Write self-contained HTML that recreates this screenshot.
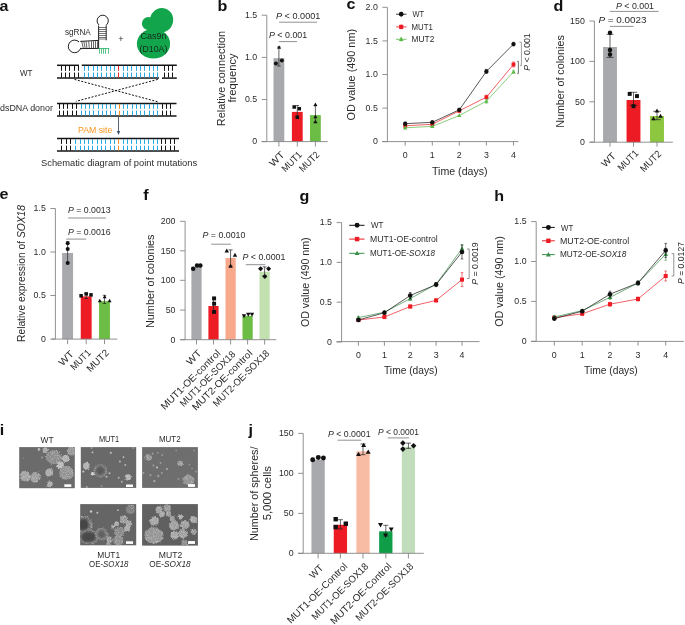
<!DOCTYPE html><html><head><meta charset="utf-8"><style>html,body{margin:0;padding:0;background:#fff;}svg{display:block;font-family:"Liberation Sans",sans-serif;will-change:transform;}</style></head><body>
<svg width="685" height="625" viewBox="0 0 685 625">
<rect width="685" height="625" fill="#fff"/>
<text transform="translate(-0.5,11) scale(1.15,1)" font-size="14" font-weight="bold" fill="#111">a</text>
<line x1="57" y1="65.3" x2="79" y2="65.3" stroke="#141414" stroke-width="1.5"/>
<line x1="81.8" y1="65.3" x2="176.8" y2="65.3" stroke="#141414" stroke-width="1.5"/>
<line x1="57" y1="78.1" x2="159" y2="78.1" stroke="#141414" stroke-width="1.5"/>
<line x1="162" y1="78.1" x2="176.8" y2="78.1" stroke="#141414" stroke-width="1.5"/>
<line x1="61.5" y1="65.8" x2="61.5" y2="70.85" stroke="#141414" stroke-width="1.0"/>
<line x1="61.5" y1="72.54999999999998" x2="61.5" y2="77.6" stroke="#141414" stroke-width="1.0"/>
<line x1="65.5" y1="65.8" x2="65.5" y2="70.85" stroke="#141414" stroke-width="1.0"/>
<line x1="65.5" y1="72.54999999999998" x2="65.5" y2="77.6" stroke="#141414" stroke-width="1.0"/>
<line x1="69.5" y1="65.8" x2="69.5" y2="70.85" stroke="#141414" stroke-width="1.0"/>
<line x1="69.5" y1="72.54999999999998" x2="69.5" y2="77.6" stroke="#141414" stroke-width="1.0"/>
<line x1="74.5" y1="65.8" x2="74.5" y2="70.85" stroke="#141414" stroke-width="1.0"/>
<line x1="74.5" y1="72.54999999999998" x2="74.5" y2="77.6" stroke="#141414" stroke-width="1.0"/>
<line x1="78.5" y1="65.8" x2="78.5" y2="70.85" stroke="#141414" stroke-width="1.0"/>
<line x1="78.5" y1="72.54999999999998" x2="78.5" y2="77.6" stroke="#141414" stroke-width="1.0"/>
<line x1="84.5" y1="65.8" x2="84.5" y2="70.85" stroke="#27aae1" stroke-width="1.0"/>
<line x1="84.5" y1="72.54999999999998" x2="84.5" y2="77.6" stroke="#27aae1" stroke-width="1.0"/>
<line x1="88.5" y1="65.8" x2="88.5" y2="70.85" stroke="#27aae1" stroke-width="1.0"/>
<line x1="88.5" y1="72.54999999999998" x2="88.5" y2="77.6" stroke="#27aae1" stroke-width="1.0"/>
<line x1="93.5" y1="65.8" x2="93.5" y2="70.85" stroke="#27aae1" stroke-width="1.0"/>
<line x1="93.5" y1="72.54999999999998" x2="93.5" y2="77.6" stroke="#27aae1" stroke-width="1.0"/>
<line x1="97.5" y1="65.8" x2="97.5" y2="70.85" stroke="#27aae1" stroke-width="1.0"/>
<line x1="97.5" y1="72.54999999999998" x2="97.5" y2="77.6" stroke="#27aae1" stroke-width="1.0"/>
<line x1="101.5" y1="65.8" x2="101.5" y2="70.85" stroke="#27aae1" stroke-width="1.0"/>
<line x1="101.5" y1="72.54999999999998" x2="101.5" y2="77.6" stroke="#27aae1" stroke-width="1.0"/>
<line x1="106.5" y1="65.8" x2="106.5" y2="70.85" stroke="#27aae1" stroke-width="1.0"/>
<line x1="106.5" y1="72.54999999999998" x2="106.5" y2="77.6" stroke="#27aae1" stroke-width="1.0"/>
<line x1="110.5" y1="65.8" x2="110.5" y2="70.85" stroke="#27aae1" stroke-width="1.0"/>
<line x1="110.5" y1="72.54999999999998" x2="110.5" y2="77.6" stroke="#27aae1" stroke-width="1.0"/>
<line x1="114.5" y1="65.8" x2="114.5" y2="70.85" stroke="#27aae1" stroke-width="1.0"/>
<line x1="114.5" y1="72.54999999999998" x2="114.5" y2="77.6" stroke="#27aae1" stroke-width="1.0"/>
<line x1="118.5" y1="65.8" x2="118.5" y2="70.85" stroke="#e8262a" stroke-width="1.0"/>
<line x1="118.5" y1="72.54999999999998" x2="118.5" y2="77.6" stroke="#e8262a" stroke-width="1.0"/>
<line x1="123.5" y1="65.8" x2="123.5" y2="70.85" stroke="#27aae1" stroke-width="1.0"/>
<line x1="123.5" y1="72.54999999999998" x2="123.5" y2="77.6" stroke="#27aae1" stroke-width="1.0"/>
<line x1="127.5" y1="65.8" x2="127.5" y2="70.85" stroke="#27aae1" stroke-width="1.0"/>
<line x1="127.5" y1="72.54999999999998" x2="127.5" y2="77.6" stroke="#27aae1" stroke-width="1.0"/>
<line x1="131.5" y1="65.8" x2="131.5" y2="70.85" stroke="#27aae1" stroke-width="1.0"/>
<line x1="131.5" y1="72.54999999999998" x2="131.5" y2="77.6" stroke="#27aae1" stroke-width="1.0"/>
<line x1="136.5" y1="65.8" x2="136.5" y2="70.85" stroke="#27aae1" stroke-width="1.0"/>
<line x1="136.5" y1="72.54999999999998" x2="136.5" y2="77.6" stroke="#27aae1" stroke-width="1.0"/>
<line x1="140.5" y1="65.8" x2="140.5" y2="70.85" stroke="#27aae1" stroke-width="1.0"/>
<line x1="140.5" y1="72.54999999999998" x2="140.5" y2="77.6" stroke="#27aae1" stroke-width="1.0"/>
<line x1="144.5" y1="65.8" x2="144.5" y2="70.85" stroke="#27aae1" stroke-width="1.0"/>
<line x1="144.5" y1="72.54999999999998" x2="144.5" y2="77.6" stroke="#27aae1" stroke-width="1.0"/>
<line x1="149.5" y1="65.8" x2="149.5" y2="70.85" stroke="#27aae1" stroke-width="1.0"/>
<line x1="149.5" y1="72.54999999999998" x2="149.5" y2="77.6" stroke="#27aae1" stroke-width="1.0"/>
<line x1="153.5" y1="65.8" x2="153.5" y2="70.85" stroke="#27aae1" stroke-width="1.0"/>
<line x1="153.5" y1="72.54999999999998" x2="153.5" y2="77.6" stroke="#27aae1" stroke-width="1.0"/>
<line x1="157.5" y1="65.8" x2="157.5" y2="70.85" stroke="#27aae1" stroke-width="1.0"/>
<line x1="157.5" y1="72.54999999999998" x2="157.5" y2="77.6" stroke="#27aae1" stroke-width="1.0"/>
<line x1="164.5" y1="65.8" x2="164.5" y2="70.85" stroke="#141414" stroke-width="1.0"/>
<line x1="164.5" y1="72.54999999999998" x2="164.5" y2="77.6" stroke="#141414" stroke-width="1.0"/>
<line x1="168.5" y1="65.8" x2="168.5" y2="70.85" stroke="#141414" stroke-width="1.0"/>
<line x1="168.5" y1="72.54999999999998" x2="168.5" y2="77.6" stroke="#141414" stroke-width="1.0"/>
<line x1="172.5" y1="65.8" x2="172.5" y2="70.85" stroke="#141414" stroke-width="1.0"/>
<line x1="172.5" y1="72.54999999999998" x2="172.5" y2="77.6" stroke="#141414" stroke-width="1.0"/>
<line x1="57" y1="103.4" x2="176.5" y2="103.4" stroke="#141414" stroke-width="1.5"/>
<line x1="57" y1="116.0" x2="176.5" y2="116.0" stroke="#141414" stroke-width="1.5"/>
<line x1="59.5" y1="103.9" x2="59.5" y2="108.85000000000001" stroke="#141414" stroke-width="1.0"/>
<line x1="59.5" y1="110.55" x2="59.5" y2="115.5" stroke="#141414" stroke-width="1.0"/>
<line x1="63.5" y1="103.9" x2="63.5" y2="108.85000000000001" stroke="#141414" stroke-width="1.0"/>
<line x1="63.5" y1="110.55" x2="63.5" y2="115.5" stroke="#141414" stroke-width="1.0"/>
<line x1="67.5" y1="103.9" x2="67.5" y2="108.85000000000001" stroke="#141414" stroke-width="1.0"/>
<line x1="67.5" y1="110.55" x2="67.5" y2="115.5" stroke="#141414" stroke-width="1.0"/>
<line x1="72.5" y1="103.9" x2="72.5" y2="108.85000000000001" stroke="#141414" stroke-width="1.0"/>
<line x1="72.5" y1="110.55" x2="72.5" y2="115.5" stroke="#141414" stroke-width="1.0"/>
<line x1="76.5" y1="103.9" x2="76.5" y2="108.85000000000001" stroke="#141414" stroke-width="1.0"/>
<line x1="76.5" y1="110.55" x2="76.5" y2="115.5" stroke="#141414" stroke-width="1.0"/>
<line x1="81.5" y1="103.9" x2="81.5" y2="108.85000000000001" stroke="#27aae1" stroke-width="1.0"/>
<line x1="81.5" y1="110.55" x2="81.5" y2="115.5" stroke="#27aae1" stroke-width="1.0"/>
<line x1="85.5" y1="103.9" x2="85.5" y2="108.85000000000001" stroke="#27aae1" stroke-width="1.0"/>
<line x1="85.5" y1="110.55" x2="85.5" y2="115.5" stroke="#27aae1" stroke-width="1.0"/>
<line x1="89.5" y1="103.9" x2="89.5" y2="108.85000000000001" stroke="#27aae1" stroke-width="1.0"/>
<line x1="89.5" y1="110.55" x2="89.5" y2="115.5" stroke="#27aae1" stroke-width="1.0"/>
<line x1="93.5" y1="103.9" x2="93.5" y2="108.85000000000001" stroke="#27aae1" stroke-width="1.0"/>
<line x1="93.5" y1="110.55" x2="93.5" y2="115.5" stroke="#27aae1" stroke-width="1.0"/>
<line x1="98.5" y1="103.9" x2="98.5" y2="108.85000000000001" stroke="#27aae1" stroke-width="1.0"/>
<line x1="98.5" y1="110.55" x2="98.5" y2="115.5" stroke="#27aae1" stroke-width="1.0"/>
<line x1="102.5" y1="103.9" x2="102.5" y2="108.85000000000001" stroke="#27aae1" stroke-width="1.0"/>
<line x1="102.5" y1="110.55" x2="102.5" y2="115.5" stroke="#27aae1" stroke-width="1.0"/>
<line x1="106.5" y1="103.9" x2="106.5" y2="108.85000000000001" stroke="#27aae1" stroke-width="1.0"/>
<line x1="106.5" y1="110.55" x2="106.5" y2="115.5" stroke="#27aae1" stroke-width="1.0"/>
<line x1="110.5" y1="103.9" x2="110.5" y2="108.85000000000001" stroke="#27aae1" stroke-width="1.0"/>
<line x1="110.5" y1="110.55" x2="110.5" y2="115.5" stroke="#27aae1" stroke-width="1.0"/>
<line x1="115.5" y1="103.9" x2="115.5" y2="108.85000000000001" stroke="#27aae1" stroke-width="1.0"/>
<line x1="115.5" y1="110.55" x2="115.5" y2="115.5" stroke="#27aae1" stroke-width="1.0"/>
<line x1="119.5" y1="103.9" x2="119.5" y2="108.85000000000001" stroke="#f7941d" stroke-width="1.0"/>
<line x1="119.5" y1="110.55" x2="119.5" y2="115.5" stroke="#f7941d" stroke-width="1.0"/>
<line x1="123.5" y1="103.9" x2="123.5" y2="108.85000000000001" stroke="#27aae1" stroke-width="1.0"/>
<line x1="123.5" y1="110.55" x2="123.5" y2="115.5" stroke="#27aae1" stroke-width="1.0"/>
<line x1="127.5" y1="103.9" x2="127.5" y2="108.85000000000001" stroke="#27aae1" stroke-width="1.0"/>
<line x1="127.5" y1="110.55" x2="127.5" y2="115.5" stroke="#27aae1" stroke-width="1.0"/>
<line x1="132.5" y1="103.9" x2="132.5" y2="108.85000000000001" stroke="#27aae1" stroke-width="1.0"/>
<line x1="132.5" y1="110.55" x2="132.5" y2="115.5" stroke="#27aae1" stroke-width="1.0"/>
<line x1="136.5" y1="103.9" x2="136.5" y2="108.85000000000001" stroke="#27aae1" stroke-width="1.0"/>
<line x1="136.5" y1="110.55" x2="136.5" y2="115.5" stroke="#27aae1" stroke-width="1.0"/>
<line x1="140.5" y1="103.9" x2="140.5" y2="108.85000000000001" stroke="#27aae1" stroke-width="1.0"/>
<line x1="140.5" y1="110.55" x2="140.5" y2="115.5" stroke="#27aae1" stroke-width="1.0"/>
<line x1="144.5" y1="103.9" x2="144.5" y2="108.85000000000001" stroke="#27aae1" stroke-width="1.0"/>
<line x1="144.5" y1="110.55" x2="144.5" y2="115.5" stroke="#27aae1" stroke-width="1.0"/>
<line x1="149.5" y1="103.9" x2="149.5" y2="108.85000000000001" stroke="#27aae1" stroke-width="1.0"/>
<line x1="149.5" y1="110.55" x2="149.5" y2="115.5" stroke="#27aae1" stroke-width="1.0"/>
<line x1="153.5" y1="103.9" x2="153.5" y2="108.85000000000001" stroke="#27aae1" stroke-width="1.0"/>
<line x1="153.5" y1="110.55" x2="153.5" y2="115.5" stroke="#27aae1" stroke-width="1.0"/>
<line x1="157.5" y1="103.9" x2="157.5" y2="108.85000000000001" stroke="#27aae1" stroke-width="1.0"/>
<line x1="157.5" y1="110.55" x2="157.5" y2="115.5" stroke="#27aae1" stroke-width="1.0"/>
<line x1="162.5" y1="103.9" x2="162.5" y2="108.85000000000001" stroke="#141414" stroke-width="1.0"/>
<line x1="162.5" y1="110.55" x2="162.5" y2="115.5" stroke="#141414" stroke-width="1.0"/>
<line x1="166.5" y1="103.9" x2="166.5" y2="108.85000000000001" stroke="#141414" stroke-width="1.0"/>
<line x1="166.5" y1="110.55" x2="166.5" y2="115.5" stroke="#141414" stroke-width="1.0"/>
<line x1="170.5" y1="103.9" x2="170.5" y2="108.85000000000001" stroke="#141414" stroke-width="1.0"/>
<line x1="170.5" y1="110.55" x2="170.5" y2="115.5" stroke="#141414" stroke-width="1.0"/>
<line x1="57" y1="138.6" x2="179" y2="138.6" stroke="#141414" stroke-width="1.5"/>
<line x1="57" y1="151.0" x2="179" y2="151.0" stroke="#141414" stroke-width="1.5"/>
<line x1="61.5" y1="139.1" x2="61.5" y2="143.95000000000002" stroke="#141414" stroke-width="1.0"/>
<line x1="61.5" y1="145.65" x2="61.5" y2="150.5" stroke="#141414" stroke-width="1.0"/>
<line x1="66.5" y1="139.1" x2="66.5" y2="143.95000000000002" stroke="#141414" stroke-width="1.0"/>
<line x1="66.5" y1="145.65" x2="66.5" y2="150.5" stroke="#141414" stroke-width="1.0"/>
<line x1="70.5" y1="139.1" x2="70.5" y2="143.95000000000002" stroke="#141414" stroke-width="1.0"/>
<line x1="70.5" y1="145.65" x2="70.5" y2="150.5" stroke="#141414" stroke-width="1.0"/>
<line x1="75.5" y1="139.1" x2="75.5" y2="143.95000000000002" stroke="#27aae1" stroke-width="1.0"/>
<line x1="75.5" y1="145.65" x2="75.5" y2="150.5" stroke="#27aae1" stroke-width="1.0"/>
<line x1="80.5" y1="139.1" x2="80.5" y2="143.95000000000002" stroke="#27aae1" stroke-width="1.0"/>
<line x1="80.5" y1="145.65" x2="80.5" y2="150.5" stroke="#27aae1" stroke-width="1.0"/>
<line x1="84.5" y1="139.1" x2="84.5" y2="143.95000000000002" stroke="#27aae1" stroke-width="1.0"/>
<line x1="84.5" y1="145.65" x2="84.5" y2="150.5" stroke="#27aae1" stroke-width="1.0"/>
<line x1="88.5" y1="139.1" x2="88.5" y2="143.95000000000002" stroke="#27aae1" stroke-width="1.0"/>
<line x1="88.5" y1="145.65" x2="88.5" y2="150.5" stroke="#27aae1" stroke-width="1.0"/>
<line x1="92.5" y1="139.1" x2="92.5" y2="143.95000000000002" stroke="#27aae1" stroke-width="1.0"/>
<line x1="92.5" y1="145.65" x2="92.5" y2="150.5" stroke="#27aae1" stroke-width="1.0"/>
<line x1="97.5" y1="139.1" x2="97.5" y2="143.95000000000002" stroke="#27aae1" stroke-width="1.0"/>
<line x1="97.5" y1="145.65" x2="97.5" y2="150.5" stroke="#27aae1" stroke-width="1.0"/>
<line x1="101.5" y1="139.1" x2="101.5" y2="143.95000000000002" stroke="#27aae1" stroke-width="1.0"/>
<line x1="101.5" y1="145.65" x2="101.5" y2="150.5" stroke="#27aae1" stroke-width="1.0"/>
<line x1="105.5" y1="139.1" x2="105.5" y2="143.95000000000002" stroke="#27aae1" stroke-width="1.0"/>
<line x1="105.5" y1="145.65" x2="105.5" y2="150.5" stroke="#27aae1" stroke-width="1.0"/>
<line x1="110.5" y1="139.1" x2="110.5" y2="143.95000000000002" stroke="#27aae1" stroke-width="1.0"/>
<line x1="110.5" y1="145.65" x2="110.5" y2="150.5" stroke="#27aae1" stroke-width="1.0"/>
<line x1="114.5" y1="139.1" x2="114.5" y2="143.95000000000002" stroke="#27aae1" stroke-width="1.0"/>
<line x1="114.5" y1="145.65" x2="114.5" y2="150.5" stroke="#27aae1" stroke-width="1.0"/>
<line x1="118.5" y1="139.1" x2="118.5" y2="143.95000000000002" stroke="#f7941d" stroke-width="1.0"/>
<line x1="118.5" y1="145.65" x2="118.5" y2="150.5" stroke="#f7941d" stroke-width="1.0"/>
<line x1="123.5" y1="139.1" x2="123.5" y2="143.95000000000002" stroke="#27aae1" stroke-width="1.0"/>
<line x1="123.5" y1="145.65" x2="123.5" y2="150.5" stroke="#27aae1" stroke-width="1.0"/>
<line x1="127.5" y1="139.1" x2="127.5" y2="143.95000000000002" stroke="#27aae1" stroke-width="1.0"/>
<line x1="127.5" y1="145.65" x2="127.5" y2="150.5" stroke="#27aae1" stroke-width="1.0"/>
<line x1="131.5" y1="139.1" x2="131.5" y2="143.95000000000002" stroke="#27aae1" stroke-width="1.0"/>
<line x1="131.5" y1="145.65" x2="131.5" y2="150.5" stroke="#27aae1" stroke-width="1.0"/>
<line x1="136.5" y1="139.1" x2="136.5" y2="143.95000000000002" stroke="#27aae1" stroke-width="1.0"/>
<line x1="136.5" y1="145.65" x2="136.5" y2="150.5" stroke="#27aae1" stroke-width="1.0"/>
<line x1="140.5" y1="139.1" x2="140.5" y2="143.95000000000002" stroke="#27aae1" stroke-width="1.0"/>
<line x1="140.5" y1="145.65" x2="140.5" y2="150.5" stroke="#27aae1" stroke-width="1.0"/>
<line x1="144.5" y1="139.1" x2="144.5" y2="143.95000000000002" stroke="#27aae1" stroke-width="1.0"/>
<line x1="144.5" y1="145.65" x2="144.5" y2="150.5" stroke="#27aae1" stroke-width="1.0"/>
<line x1="148.5" y1="139.1" x2="148.5" y2="143.95000000000002" stroke="#27aae1" stroke-width="1.0"/>
<line x1="148.5" y1="145.65" x2="148.5" y2="150.5" stroke="#27aae1" stroke-width="1.0"/>
<line x1="153.5" y1="139.1" x2="153.5" y2="143.95000000000002" stroke="#27aae1" stroke-width="1.0"/>
<line x1="153.5" y1="145.65" x2="153.5" y2="150.5" stroke="#27aae1" stroke-width="1.0"/>
<line x1="157.5" y1="139.1" x2="157.5" y2="143.95000000000002" stroke="#27aae1" stroke-width="1.0"/>
<line x1="157.5" y1="145.65" x2="157.5" y2="150.5" stroke="#27aae1" stroke-width="1.0"/>
<line x1="161.5" y1="139.1" x2="161.5" y2="143.95000000000002" stroke="#141414" stroke-width="1.0"/>
<line x1="161.5" y1="145.65" x2="161.5" y2="150.5" stroke="#141414" stroke-width="1.0"/>
<line x1="165.5" y1="139.1" x2="165.5" y2="143.95000000000002" stroke="#141414" stroke-width="1.0"/>
<line x1="165.5" y1="145.65" x2="165.5" y2="150.5" stroke="#141414" stroke-width="1.0"/>
<line x1="170.5" y1="139.1" x2="170.5" y2="143.95000000000002" stroke="#141414" stroke-width="1.0"/>
<line x1="170.5" y1="145.65" x2="170.5" y2="150.5" stroke="#141414" stroke-width="1.0"/>
<line x1="174.5" y1="139.1" x2="174.5" y2="143.95000000000002" stroke="#141414" stroke-width="1.0"/>
<line x1="174.5" y1="145.65" x2="174.5" y2="150.5" stroke="#141414" stroke-width="1.0"/>
<line x1="74.5" y1="79.4" x2="157.7" y2="101.8" stroke="#111" stroke-width="1.0" stroke-dasharray="2 1.5"/>
<line x1="157.7" y1="79.4" x2="75.9" y2="101.4" stroke="#111" stroke-width="1.0" stroke-dasharray="2 1.5"/>
<line x1="118.5" y1="116.6" x2="118.5" y2="132" stroke="#3f4f6b" stroke-width="0.9"/>
<path d="M116.8,131 L120.2,131 L118.5,134.9 Z" fill="#3f4f6b"/>
<text x="121" y="41.6" font-size="9" text-anchor="middle" fill="#2b2b2b">+</text>
<circle cx="102.7" cy="20.8" r="5.6" fill="none" stroke="#151515" stroke-width="0.95"/>
<circle cx="74.6" cy="46.4" r="6.3" fill="none" stroke="#151515" stroke-width="0.95"/>
<rect x="99.0" y="24.5" width="6.8" height="3" fill="#fff"/>
<rect x="79.0" y="41.9" width="3" height="5.9" fill="#fff"/>
<line x1="98.6" y1="25.6" x2="98.6" y2="48.6" stroke="#151515" stroke-width="0.95"/>
<line x1="106.2" y1="25.6" x2="106.2" y2="40.3" stroke="#151515" stroke-width="0.95"/>
<line x1="98.6" y1="27.5" x2="106.2" y2="27.5" stroke="#444" stroke-width="0.75"/>
<line x1="98.6" y1="29.5" x2="106.2" y2="29.5" stroke="#444" stroke-width="0.75"/>
<line x1="98.6" y1="31.5" x2="106.2" y2="31.5" stroke="#444" stroke-width="0.75"/>
<line x1="98.6" y1="33.5" x2="106.2" y2="33.5" stroke="#444" stroke-width="0.75"/>
<line x1="98.6" y1="35.5" x2="106.2" y2="35.5" stroke="#444" stroke-width="0.75"/>
<line x1="98.6" y1="37.5" x2="106.2" y2="37.5" stroke="#444" stroke-width="0.75"/>
<line x1="98.6" y1="39.0" x2="106.2" y2="39.0" stroke="#444" stroke-width="0.75"/>
<line x1="80.2" y1="41.4" x2="98.6" y2="40.4" stroke="#151515" stroke-width="0.95"/>
<line x1="80.2" y1="48.6" x2="98.6" y2="48.4" stroke="#151515" stroke-width="0.95"/>
<line x1="81.7" y1="41.2" x2="83.3" y2="48.4" stroke="#333" stroke-width="0.75"/>
<line x1="83.8" y1="41.2" x2="85.2" y2="48.4" stroke="#333" stroke-width="0.75"/>
<line x1="86.0" y1="41.2" x2="87.0" y2="48.4" stroke="#333" stroke-width="0.75"/>
<line x1="88.7" y1="41.2" x2="89.3" y2="48.4" stroke="#333" stroke-width="0.75"/>
<line x1="91.5" y1="41.2" x2="91.5" y2="48.4" stroke="#333" stroke-width="0.75"/>
<line x1="93.5" y1="41.2" x2="93.5" y2="48.4" stroke="#333" stroke-width="0.75"/>
<line x1="95.5" y1="41.2" x2="95.5" y2="48.4" stroke="#333" stroke-width="0.75"/>
<line x1="97.5" y1="41.2" x2="97.5" y2="48.4" stroke="#333" stroke-width="0.75"/>
<line x1="98.6" y1="48.5" x2="109.0" y2="48.5" stroke="#33b56c" stroke-width="0.9"/>
<line x1="99.5" y1="48.5" x2="99.5" y2="53.8" stroke="#33b56c" stroke-width="0.8"/>
<line x1="101.5" y1="48.5" x2="101.5" y2="53.8" stroke="#33b56c" stroke-width="0.8"/>
<line x1="103.5" y1="48.5" x2="103.5" y2="53.8" stroke="#33b56c" stroke-width="0.8"/>
<line x1="105.5" y1="48.5" x2="105.5" y2="53.8" stroke="#33b56c" stroke-width="0.8"/>
<line x1="108.5" y1="48.5" x2="108.5" y2="53.8" stroke="#33b56c" stroke-width="0.8"/>
<ellipse cx="161.5" cy="20.3" rx="11.6" ry="12.4" transform="rotate(20 161.5 20.3)" fill="#12a54c"/>
<circle cx="148.3" cy="23.5" r="6.4" fill="#12a54c"/>
<ellipse cx="153.5" cy="43.7" rx="16.6" ry="14.9" fill="#12a54c"/>
<circle cx="152.5" cy="29.5" r="3" fill="#12a54c"/>
<text transform="translate(217.5,10.8) scale(1.15,1)" font-size="14" font-weight="bold" fill="#111">b</text>
<line x1="266.8" y1="15.2" x2="266.8" y2="141.6" stroke="#858585" stroke-width="0.9"/>
<line x1="261.8" y1="15.2" x2="266.8" y2="15.2" stroke="#858585" stroke-width="0.9"/>
<text x="257.2" y="18.0" font-size="8.8" text-anchor="end" fill="#2b2b2b">1.5</text>
<line x1="261.8" y1="57.4" x2="266.8" y2="57.4" stroke="#858585" stroke-width="0.9"/>
<text x="257.2" y="60.199999999999996" font-size="8.8" text-anchor="end" fill="#2b2b2b">1.0</text>
<line x1="261.8" y1="99.5" x2="266.8" y2="99.5" stroke="#858585" stroke-width="0.9"/>
<text x="257.2" y="102.3" font-size="8.8" text-anchor="end" fill="#2b2b2b">0.5</text>
<line x1="261.8" y1="141.6" x2="266.8" y2="141.6" stroke="#858585" stroke-width="0.9"/>
<text x="257.2" y="144.4" font-size="8.8" text-anchor="end" fill="#2b2b2b">0</text>
<rect x="273.5" y="58.2" width="10.8" height="83.39999999999999" fill="#a7a9ac"/>
<rect x="291.90000000000003" y="111.9" width="10.8" height="29.69999999999999" fill="#ed1c24"/>
<rect x="310.0" y="115.1" width="10.8" height="26.5" fill="#6cbd45"/>
<line x1="261.5" y1="141.6" x2="327.6" y2="141.6" stroke="#858585" stroke-width="0.9"/>
<line x1="278.9" y1="141.6" x2="278.9" y2="146.6" stroke="#858585" stroke-width="0.9"/>
<line x1="297.3" y1="141.6" x2="297.3" y2="146.6" stroke="#858585" stroke-width="0.9"/>
<line x1="315.4" y1="141.6" x2="315.4" y2="146.6" stroke="#858585" stroke-width="0.9"/>
<line x1="278.9" y1="47.0" x2="278.9" y2="66.0" stroke="#222" stroke-width="0.7"/>
<line x1="277.15" y1="47.0" x2="280.65" y2="47.0" stroke="#222" stroke-width="0.7"/>
<line x1="277.15" y1="66.0" x2="280.65" y2="66.0" stroke="#222" stroke-width="0.7"/>
<path d="M279.1,45.32 L281.076,48.856 L277.124,48.856 Z" fill="#111"/>
<circle cx="275.9" cy="63.4" r="1.984" fill="#111"/>
<circle cx="281.9" cy="60.6" r="1.984" fill="#111"/>
<line x1="297.3" y1="105.5" x2="297.3" y2="116.7" stroke="#222" stroke-width="0.7"/>
<line x1="295.55" y1="105.5" x2="299.05" y2="105.5" stroke="#222" stroke-width="0.7"/>
<line x1="295.55" y1="116.7" x2="299.05" y2="116.7" stroke="#222" stroke-width="0.7"/>
<rect x="292.44" y="105.24" width="3.5200000000000005" height="3.5200000000000005" fill="#111"/>
<rect x="297.54" y="106.94" width="3.5200000000000005" height="3.5200000000000005" fill="#111"/>
<rect x="295.54" y="115.44" width="3.5200000000000005" height="3.5200000000000005" fill="#111"/>
<line x1="315.4" y1="105.8" x2="315.4" y2="122.4" stroke="#222" stroke-width="0.7"/>
<line x1="313.65" y1="105.8" x2="317.15" y2="105.8" stroke="#222" stroke-width="0.7"/>
<line x1="313.65" y1="122.4" x2="317.15" y2="122.4" stroke="#222" stroke-width="0.7"/>
<path d="M315.4,102.52 L317.376,106.056 L313.424,106.056 Z" fill="#111"/>
<path d="M315.4,114.82000000000001 L317.376,118.35600000000001 L313.424,118.35600000000001 Z" fill="#111"/>
<path d="M315.4,119.82000000000001 L317.376,123.35600000000001 L313.424,123.35600000000001 Z" fill="#111"/>
<line x1="279.1" y1="22.2" x2="317.0" y2="22.2" stroke="#858585" stroke-width="0.9"/>
<line x1="279.1" y1="41.6" x2="297.0" y2="41.6" stroke="#858585" stroke-width="0.9"/>
<text transform="translate(346.5,8.8) scale(1.15,1)" font-size="14" font-weight="bold" fill="#111">c</text>
<line x1="387.4" y1="7.3" x2="387.4" y2="141.6" stroke="#858585" stroke-width="0.9"/>
<line x1="382.4" y1="7.3" x2="387.4" y2="7.3" stroke="#858585" stroke-width="0.9"/>
<text x="377.79999999999995" y="10.1" font-size="8.8" text-anchor="end" fill="#2b2b2b">2.0</text>
<line x1="382.4" y1="40.9" x2="387.4" y2="40.9" stroke="#858585" stroke-width="0.9"/>
<text x="377.79999999999995" y="43.699999999999996" font-size="8.8" text-anchor="end" fill="#2b2b2b">1.5</text>
<line x1="382.4" y1="74.5" x2="387.4" y2="74.5" stroke="#858585" stroke-width="0.9"/>
<text x="377.79999999999995" y="77.3" font-size="8.8" text-anchor="end" fill="#2b2b2b">1.0</text>
<line x1="382.4" y1="108.1" x2="387.4" y2="108.1" stroke="#858585" stroke-width="0.9"/>
<text x="377.79999999999995" y="110.89999999999999" font-size="8.8" text-anchor="end" fill="#2b2b2b">0.5</text>
<line x1="382.4" y1="141.6" x2="387.4" y2="141.6" stroke="#858585" stroke-width="0.9"/>
<text x="377.79999999999995" y="144.4" font-size="8.8" text-anchor="end" fill="#2b2b2b">0</text>
<line x1="382.0" y1="141.6" x2="518.5" y2="141.6" stroke="#858585" stroke-width="0.9"/>
<line x1="405.2" y1="141.6" x2="405.2" y2="145.6" stroke="#858585" stroke-width="0.9"/>
<line x1="432.3" y1="141.6" x2="432.3" y2="145.6" stroke="#858585" stroke-width="0.9"/>
<line x1="459.3" y1="141.6" x2="459.3" y2="145.6" stroke="#858585" stroke-width="0.9"/>
<line x1="486.4" y1="141.6" x2="486.4" y2="145.6" stroke="#858585" stroke-width="0.9"/>
<line x1="513.5" y1="141.6" x2="513.5" y2="145.6" stroke="#858585" stroke-width="0.9"/>
<text x="405.2" y="158.4" font-size="8.8" text-anchor="middle" fill="#2b2b2b">0</text>
<text x="432.3" y="158.4" font-size="8.8" text-anchor="middle" fill="#2b2b2b">1</text>
<text x="459.3" y="158.4" font-size="8.8" text-anchor="middle" fill="#2b2b2b">2</text>
<text x="486.4" y="158.4" font-size="8.8" text-anchor="middle" fill="#2b2b2b">3</text>
<text x="513.5" y="158.4" font-size="8.8" text-anchor="middle" fill="#2b2b2b">4</text>
<polyline points="405.2,125.8 432.3,124.3 459.3,110.8 486.4,97.2 513.5,64.5" fill="none" stroke="#ed1c24" stroke-width="0.7"/>
<line x1="405.2" y1="124.3" x2="405.2" y2="127.3" stroke="#ed1c24" stroke-width="0.6"/>
<line x1="403.95" y1="124.3" x2="406.45" y2="124.3" stroke="#ed1c24" stroke-width="0.6"/>
<line x1="403.95" y1="127.3" x2="406.45" y2="127.3" stroke="#ed1c24" stroke-width="0.6"/>
<line x1="432.3" y1="122.8" x2="432.3" y2="125.8" stroke="#ed1c24" stroke-width="0.6"/>
<line x1="431.05" y1="122.8" x2="433.55" y2="122.8" stroke="#ed1c24" stroke-width="0.6"/>
<line x1="431.05" y1="125.8" x2="433.55" y2="125.8" stroke="#ed1c24" stroke-width="0.6"/>
<line x1="459.3" y1="109.3" x2="459.3" y2="112.3" stroke="#ed1c24" stroke-width="0.6"/>
<line x1="458.05" y1="109.3" x2="460.55" y2="109.3" stroke="#ed1c24" stroke-width="0.6"/>
<line x1="458.05" y1="112.3" x2="460.55" y2="112.3" stroke="#ed1c24" stroke-width="0.6"/>
<line x1="486.4" y1="95.2" x2="486.4" y2="99.2" stroke="#ed1c24" stroke-width="0.6"/>
<line x1="485.15" y1="95.2" x2="487.65" y2="95.2" stroke="#ed1c24" stroke-width="0.6"/>
<line x1="485.15" y1="99.2" x2="487.65" y2="99.2" stroke="#ed1c24" stroke-width="0.6"/>
<line x1="513.5" y1="62.0" x2="513.5" y2="67.0" stroke="#ed1c24" stroke-width="0.6"/>
<line x1="512.25" y1="62.0" x2="514.75" y2="62.0" stroke="#ed1c24" stroke-width="0.6"/>
<line x1="512.25" y1="67.0" x2="514.75" y2="67.0" stroke="#ed1c24" stroke-width="0.6"/>
<rect x="403.275" y="123.875" width="3.8500000000000005" height="3.8500000000000005" fill="#ed1c24"/>
<rect x="430.375" y="122.375" width="3.8500000000000005" height="3.8500000000000005" fill="#ed1c24"/>
<rect x="457.375" y="108.875" width="3.8500000000000005" height="3.8500000000000005" fill="#ed1c24"/>
<rect x="484.47499999999997" y="95.275" width="3.8500000000000005" height="3.8500000000000005" fill="#ed1c24"/>
<rect x="511.575" y="62.575" width="3.8500000000000005" height="3.8500000000000005" fill="#ed1c24"/>
<polyline points="405.2,127.8 432.3,126.4 459.3,115.5 486.4,101.2 513.5,71.8" fill="none" stroke="#5cb848" stroke-width="0.7"/>
<line x1="486.4" y1="99.2" x2="486.4" y2="103.2" stroke="#5cb848" stroke-width="0.6"/>
<line x1="485.15" y1="99.2" x2="487.65" y2="99.2" stroke="#5cb848" stroke-width="0.6"/>
<line x1="485.15" y1="103.2" x2="487.65" y2="103.2" stroke="#5cb848" stroke-width="0.6"/>
<line x1="513.5" y1="70.3" x2="513.5" y2="73.3" stroke="#5cb848" stroke-width="0.6"/>
<line x1="512.25" y1="70.3" x2="514.75" y2="70.3" stroke="#5cb848" stroke-width="0.6"/>
<line x1="512.25" y1="73.3" x2="514.75" y2="73.3" stroke="#5cb848" stroke-width="0.6"/>
<path d="M405.2,125.52499999999999 L407.36125,129.39249999999998 L403.03875,129.39249999999998 Z" fill="#5cb848"/>
<path d="M432.3,124.125 L434.46125,127.9925 L430.13875,127.9925 Z" fill="#5cb848"/>
<path d="M459.3,113.225 L461.46125,117.0925 L457.13875,117.0925 Z" fill="#5cb848"/>
<path d="M486.4,98.925 L488.56125,102.7925 L484.23875,102.7925 Z" fill="#5cb848"/>
<path d="M513.5,69.52499999999999 L515.66125,73.3925 L511.33875,73.3925 Z" fill="#5cb848"/>
<polyline points="405.2,123.7 432.3,122.3 459.3,109.8 486.4,71.4 513.5,44.1" fill="none" stroke="#111" stroke-width="0.7"/>
<line x1="405.2" y1="122.2" x2="405.2" y2="125.2" stroke="#111" stroke-width="0.6"/>
<line x1="403.95" y1="122.2" x2="406.45" y2="122.2" stroke="#111" stroke-width="0.6"/>
<line x1="403.95" y1="125.2" x2="406.45" y2="125.2" stroke="#111" stroke-width="0.6"/>
<line x1="432.3" y1="120.8" x2="432.3" y2="123.8" stroke="#111" stroke-width="0.6"/>
<line x1="431.05" y1="120.8" x2="433.55" y2="120.8" stroke="#111" stroke-width="0.6"/>
<line x1="431.05" y1="123.8" x2="433.55" y2="123.8" stroke="#111" stroke-width="0.6"/>
<line x1="459.3" y1="108.3" x2="459.3" y2="111.3" stroke="#111" stroke-width="0.6"/>
<line x1="458.05" y1="108.3" x2="460.55" y2="108.3" stroke="#111" stroke-width="0.6"/>
<line x1="458.05" y1="111.3" x2="460.55" y2="111.3" stroke="#111" stroke-width="0.6"/>
<line x1="486.4" y1="69.4" x2="486.4" y2="73.4" stroke="#111" stroke-width="0.6"/>
<line x1="485.15" y1="69.4" x2="487.65" y2="69.4" stroke="#111" stroke-width="0.6"/>
<line x1="485.15" y1="73.4" x2="487.65" y2="73.4" stroke="#111" stroke-width="0.6"/>
<line x1="513.5" y1="42.300000000000004" x2="513.5" y2="45.9" stroke="#111" stroke-width="0.6"/>
<line x1="512.25" y1="42.300000000000004" x2="514.75" y2="42.300000000000004" stroke="#111" stroke-width="0.6"/>
<line x1="512.25" y1="45.9" x2="514.75" y2="45.9" stroke="#111" stroke-width="0.6"/>
<circle cx="405.2" cy="123.7" r="2.17" fill="#111"/>
<circle cx="432.3" cy="122.3" r="2.17" fill="#111"/>
<circle cx="459.3" cy="109.8" r="2.17" fill="#111"/>
<circle cx="486.4" cy="71.4" r="2.17" fill="#111"/>
<circle cx="513.5" cy="44.1" r="2.17" fill="#111"/>
<line x1="396.0" y1="14.2" x2="406.5" y2="14.2" stroke="#111" stroke-width="0.8"/>
<line x1="401.2" y1="11.7" x2="401.2" y2="16.7" stroke="#111" stroke-width="0.7"/>
<circle cx="401.2" cy="14.2" r="2.356" fill="#111"/>
<line x1="396.0" y1="26.9" x2="406.5" y2="26.9" stroke="#ed1c24" stroke-width="0.8"/>
<line x1="401.2" y1="24.4" x2="401.2" y2="29.4" stroke="#ed1c24" stroke-width="0.7"/>
<rect x="399.11" y="24.81" width="4.18" height="4.18" fill="#ed1c24"/>
<line x1="396.0" y1="39.3" x2="406.5" y2="39.3" stroke="#5cb848" stroke-width="0.8"/>
<line x1="401.2" y1="36.8" x2="401.2" y2="41.8" stroke="#5cb848" stroke-width="0.7"/>
<path d="M401.2,36.83 L403.5465,41.028999999999996 L398.8535,41.028999999999996 Z" fill="#5cb848"/>
<path d="M519.4,42.2 H521.4 V65.6 H520.0" fill="none" stroke="#777" stroke-width="0.7"/>
<path d="M517.2,61.4 H518.4 V73.4 H517.2" fill="none" stroke="#333" stroke-width="0.7"/>
<text transform="translate(553.5,10.8) scale(1.15,1)" font-size="14" font-weight="bold" fill="#111">d</text>
<line x1="594.4" y1="21.0" x2="594.4" y2="142.2" stroke="#858585" stroke-width="0.9"/>
<line x1="589.4" y1="21.0" x2="594.4" y2="21.0" stroke="#858585" stroke-width="0.9"/>
<text x="584.8" y="23.8" font-size="8.8" text-anchor="end" fill="#2b2b2b">150</text>
<line x1="589.4" y1="61.4" x2="594.4" y2="61.4" stroke="#858585" stroke-width="0.9"/>
<text x="584.8" y="64.2" font-size="8.8" text-anchor="end" fill="#2b2b2b">100</text>
<line x1="589.4" y1="101.8" x2="594.4" y2="101.8" stroke="#858585" stroke-width="0.9"/>
<text x="584.8" y="104.6" font-size="8.8" text-anchor="end" fill="#2b2b2b">50</text>
<line x1="589.4" y1="142.2" x2="594.4" y2="142.2" stroke="#858585" stroke-width="0.9"/>
<text x="584.8" y="145.0" font-size="8.8" text-anchor="end" fill="#2b2b2b">0</text>
<rect x="603.05" y="47.0" width="13.9" height="95.19999999999999" fill="#a7a9ac"/>
<rect x="626.55" y="100.0" width="13.9" height="42.19999999999999" fill="#ed1c24"/>
<rect x="650.05" y="116.0" width="13.9" height="26.19999999999999" fill="#8dc63f"/>
<line x1="589.8" y1="142.2" x2="672.8" y2="142.2" stroke="#858585" stroke-width="0.9"/>
<line x1="610.0" y1="142.2" x2="610.0" y2="146.7" stroke="#858585" stroke-width="0.9"/>
<line x1="633.5" y1="142.2" x2="633.5" y2="146.7" stroke="#858585" stroke-width="0.9"/>
<line x1="657.0" y1="142.2" x2="657.0" y2="146.7" stroke="#858585" stroke-width="0.9"/>
<line x1="610.0" y1="34.4" x2="610.0" y2="57.4" stroke="#222" stroke-width="0.7"/>
<line x1="606.5" y1="34.4" x2="613.5" y2="34.4" stroke="#222" stroke-width="0.7"/>
<line x1="606.5" y1="57.4" x2="613.5" y2="57.4" stroke="#222" stroke-width="0.7"/>
<circle cx="610.0" cy="32.7" r="2.232" fill="#111"/>
<circle cx="610.0" cy="50.0" r="2.232" fill="#111"/>
<circle cx="610.0" cy="54.6" r="2.232" fill="#111"/>
<line x1="633.5" y1="92.3" x2="633.5" y2="105.4" stroke="#222" stroke-width="0.7"/>
<line x1="629.75" y1="92.3" x2="637.25" y2="92.3" stroke="#222" stroke-width="0.7"/>
<line x1="629.75" y1="105.4" x2="637.25" y2="105.4" stroke="#222" stroke-width="0.7"/>
<rect x="627.72" y="91.92" width="3.9600000000000004" height="3.9600000000000004" fill="#111"/>
<rect x="635.02" y="94.11999999999999" width="3.9600000000000004" height="3.9600000000000004" fill="#111"/>
<rect x="631.52" y="104.22" width="3.9600000000000004" height="3.9600000000000004" fill="#111"/>
<line x1="657.0" y1="111.3" x2="657.0" y2="119.7" stroke="#222" stroke-width="0.7"/>
<line x1="653.25" y1="111.3" x2="660.75" y2="111.3" stroke="#222" stroke-width="0.7"/>
<line x1="653.25" y1="119.7" x2="660.75" y2="119.7" stroke="#222" stroke-width="0.7"/>
<path d="M657.0,108.56 L659.223,112.53800000000001 L654.777,112.53800000000001 Z" fill="#111"/>
<path d="M653.4,116.25999999999999 L655.6229999999999,120.238 L651.177,120.238 Z" fill="#111"/>
<path d="M660.5,113.66 L662.723,117.638 L658.277,117.638 Z" fill="#111"/>
<line x1="609.8" y1="11.4" x2="658.6" y2="11.4" stroke="#858585" stroke-width="0.9"/>
<line x1="609.8" y1="26.4" x2="633.5" y2="26.4" stroke="#858585" stroke-width="0.9"/>
<text transform="translate(-0.5,198.8) scale(1.15,1)" font-size="14" font-weight="bold" fill="#111">e</text>
<line x1="55.4" y1="208.5" x2="55.4" y2="339.1" stroke="#858585" stroke-width="0.9"/>
<line x1="50.4" y1="208.5" x2="55.4" y2="208.5" stroke="#858585" stroke-width="0.9"/>
<text x="45.8" y="211.3" font-size="8.8" text-anchor="end" fill="#2b2b2b">1.5</text>
<line x1="50.4" y1="252.0" x2="55.4" y2="252.0" stroke="#858585" stroke-width="0.9"/>
<text x="45.8" y="254.8" font-size="8.8" text-anchor="end" fill="#2b2b2b">1.0</text>
<line x1="50.4" y1="295.5" x2="55.4" y2="295.5" stroke="#858585" stroke-width="0.9"/>
<text x="45.8" y="298.3" font-size="8.8" text-anchor="end" fill="#2b2b2b">0.5</text>
<line x1="50.4" y1="339.1" x2="55.4" y2="339.1" stroke="#858585" stroke-width="0.9"/>
<text x="45.8" y="341.90000000000003" font-size="8.8" text-anchor="end" fill="#2b2b2b">0</text>
<rect x="62.14999999999999" y="253.0" width="10.9" height="86.10000000000002" fill="#a7a9ac"/>
<rect x="80.75" y="296.4" width="10.9" height="42.700000000000045" fill="#ed1c24"/>
<rect x="99.05" y="301.2" width="10.9" height="37.900000000000034" fill="#6cbd45"/>
<line x1="51.6" y1="339.1" x2="117.3" y2="339.1" stroke="#858585" stroke-width="0.9"/>
<line x1="67.6" y1="339.1" x2="67.6" y2="344.1" stroke="#858585" stroke-width="0.9"/>
<line x1="86.2" y1="339.1" x2="86.2" y2="344.1" stroke="#858585" stroke-width="0.9"/>
<line x1="104.5" y1="339.1" x2="104.5" y2="344.1" stroke="#858585" stroke-width="0.9"/>
<line x1="67.6" y1="241.7" x2="67.6" y2="262.2" stroke="#222" stroke-width="0.7"/>
<line x1="65.85" y1="241.7" x2="69.35" y2="241.7" stroke="#222" stroke-width="0.7"/>
<line x1="65.85" y1="262.2" x2="69.35" y2="262.2" stroke="#222" stroke-width="0.7"/>
<circle cx="67.7" cy="243.2" r="1.984" fill="#111"/>
<circle cx="67.7" cy="249.0" r="1.984" fill="#111"/>
<circle cx="67.7" cy="262.9" r="1.984" fill="#111"/>
<line x1="86.2" y1="293.5" x2="86.2" y2="298.5" stroke="#222" stroke-width="0.7"/>
<line x1="84.45" y1="293.5" x2="87.95" y2="293.5" stroke="#222" stroke-width="0.7"/>
<line x1="84.45" y1="298.5" x2="87.95" y2="298.5" stroke="#222" stroke-width="0.7"/>
<rect x="79.33999999999999" y="294.04" width="3.5200000000000005" height="3.5200000000000005" fill="#111"/>
<rect x="84.44" y="292.14" width="3.5200000000000005" height="3.5200000000000005" fill="#111"/>
<rect x="89.24" y="293.14" width="3.5200000000000005" height="3.5200000000000005" fill="#111"/>
<line x1="104.5" y1="295.3" x2="104.5" y2="303.5" stroke="#222" stroke-width="0.7"/>
<line x1="102.75" y1="295.3" x2="106.25" y2="295.3" stroke="#222" stroke-width="0.7"/>
<line x1="102.75" y1="303.5" x2="106.25" y2="303.5" stroke="#222" stroke-width="0.7"/>
<path d="M99.8,298.82 L101.776,302.356 L97.824,302.356 Z" fill="#111"/>
<path d="M104.7,294.72 L106.676,298.25600000000003 L102.724,298.25600000000003 Z" fill="#111"/>
<path d="M109.6,298.82 L111.576,302.356 L107.624,302.356 Z" fill="#111"/>
<line x1="68.2" y1="218.0" x2="105.9" y2="218.0" stroke="#858585" stroke-width="0.9"/>
<line x1="66.2" y1="239.1" x2="86.2" y2="239.1" stroke="#858585" stroke-width="0.9"/>
<text transform="translate(143.3,199.8) scale(1.15,1)" font-size="14" font-weight="bold" fill="#111">f</text>
<line x1="185.1" y1="221.3" x2="185.1" y2="339.7" stroke="#858585" stroke-width="0.9"/>
<line x1="180.1" y1="221.3" x2="185.1" y2="221.3" stroke="#858585" stroke-width="0.9"/>
<text x="175.5" y="224.10000000000002" font-size="8.8" text-anchor="end" fill="#2b2b2b">200</text>
<line x1="180.1" y1="250.8" x2="185.1" y2="250.8" stroke="#858585" stroke-width="0.9"/>
<text x="175.5" y="253.60000000000002" font-size="8.8" text-anchor="end" fill="#2b2b2b">150</text>
<line x1="180.1" y1="280.3" x2="185.1" y2="280.3" stroke="#858585" stroke-width="0.9"/>
<text x="175.5" y="283.1" font-size="8.8" text-anchor="end" fill="#2b2b2b">100</text>
<line x1="180.1" y1="310.1" x2="185.1" y2="310.1" stroke="#858585" stroke-width="0.9"/>
<text x="175.5" y="312.90000000000003" font-size="8.8" text-anchor="end" fill="#2b2b2b">50</text>
<line x1="180.1" y1="339.7" x2="185.1" y2="339.7" stroke="#858585" stroke-width="0.9"/>
<text x="175.5" y="342.5" font-size="8.8" text-anchor="end" fill="#2b2b2b">0</text>
<rect x="191.4" y="266.8" width="10.2" height="72.89999999999998" fill="#a7a9ac"/>
<rect x="208.4" y="306.0" width="10.2" height="33.69999999999999" fill="#ed1c24"/>
<rect x="225.5" y="258.0" width="10.2" height="81.69999999999999" fill="#f9a98b"/>
<rect x="242.5" y="316.0" width="10.2" height="23.69999999999999" fill="#6cbd45"/>
<rect x="259.5" y="271.7" width="10.2" height="68.0" fill="#c3e0b0"/>
<line x1="180.5" y1="339.7" x2="276.3" y2="339.7" stroke="#858585" stroke-width="0.9"/>
<line x1="196.5" y1="339.7" x2="196.5" y2="344.5" stroke="#858585" stroke-width="0.9"/>
<line x1="213.5" y1="339.7" x2="213.5" y2="344.5" stroke="#858585" stroke-width="0.9"/>
<line x1="230.6" y1="339.7" x2="230.6" y2="344.5" stroke="#858585" stroke-width="0.9"/>
<line x1="247.6" y1="339.7" x2="247.6" y2="344.5" stroke="#858585" stroke-width="0.9"/>
<line x1="264.6" y1="339.7" x2="264.6" y2="344.5" stroke="#858585" stroke-width="0.9"/>
<circle cx="193.2" cy="268.8" r="2.232" fill="#111"/>
<circle cx="197.0" cy="265.4" r="2.232" fill="#111"/>
<circle cx="200.4" cy="265.4" r="2.232" fill="#111"/>
<line x1="213.5" y1="298.5" x2="213.5" y2="312.0" stroke="#222" stroke-width="0.7"/>
<line x1="212.0" y1="298.5" x2="215.0" y2="298.5" stroke="#222" stroke-width="0.7"/>
<line x1="212.0" y1="312.0" x2="215.0" y2="312.0" stroke="#222" stroke-width="0.7"/>
<rect x="212.12" y="296.41999999999996" width="3.9600000000000004" height="3.9600000000000004" fill="#111"/>
<rect x="212.12" y="301.71999999999997" width="3.9600000000000004" height="3.9600000000000004" fill="#111"/>
<rect x="212.12" y="309.91999999999996" width="3.9600000000000004" height="3.9600000000000004" fill="#111"/>
<line x1="230.6" y1="249.9" x2="230.6" y2="266.0" stroke="#222" stroke-width="0.7"/>
<line x1="228.6" y1="249.9" x2="232.6" y2="249.9" stroke="#222" stroke-width="0.7"/>
<line x1="228.6" y1="266.0" x2="232.6" y2="266.0" stroke="#222" stroke-width="0.7"/>
<path d="M226.8,248.46 L229.02300000000002,252.43800000000002 L224.577,252.43800000000002 Z" fill="#111"/>
<path d="M235.0,252.85999999999999 L237.223,256.83799999999997 L232.777,256.83799999999997 Z" fill="#111"/>
<path d="M230.6,263.66 L232.823,267.638 L228.37699999999998,267.638 Z" fill="#111"/>
<path d="M244.0,318.34 L246.223,314.362 L241.777,314.362 Z" fill="#111"/>
<path d="M248.3,316.84 L250.52300000000002,312.862 L246.077,312.862 Z" fill="#111"/>
<path d="M252.0,316.84 L254.223,312.862 L249.777,312.862 Z" fill="#111"/>
<line x1="264.6" y1="266.9" x2="264.6" y2="275.5" stroke="#222" stroke-width="0.7"/>
<line x1="262.6" y1="266.9" x2="266.6" y2="266.9" stroke="#222" stroke-width="0.7"/>
<line x1="262.6" y1="275.5" x2="266.6" y2="275.5" stroke="#222" stroke-width="0.7"/>
<path d="M260.6,266.28000000000003 L263.12,268.8 L260.6,271.32 L258.08000000000004,268.8 Z" fill="#111"/>
<path d="M268.6,266.28000000000003 L271.12,268.8 L268.6,271.32 L266.08000000000004,268.8 Z" fill="#111"/>
<path d="M264.8,273.88 L267.32,276.4 L264.8,278.91999999999996 L262.28000000000003,276.4 Z" fill="#111"/>
<line x1="211.2" y1="244.2" x2="230.8" y2="244.2" stroke="#858585" stroke-width="0.9"/>
<line x1="245.8" y1="264.7" x2="265.3" y2="264.7" stroke="#858585" stroke-width="0.9"/>
<text transform="translate(299.5,200.5) scale(1.15,1)" font-size="14" font-weight="bold" fill="#111">g</text>
<line x1="341.6" y1="222.6" x2="341.6" y2="342.0" stroke="#858585" stroke-width="0.9"/>
<line x1="336.6" y1="222.6" x2="341.6" y2="222.6" stroke="#858585" stroke-width="0.9"/>
<text x="332.0" y="225.4" font-size="8.8" text-anchor="end" fill="#2b2b2b">1.5</text>
<line x1="336.6" y1="262.4" x2="341.6" y2="262.4" stroke="#858585" stroke-width="0.9"/>
<text x="332.0" y="265.2" font-size="8.8" text-anchor="end" fill="#2b2b2b">1.0</text>
<line x1="336.6" y1="302.2" x2="341.6" y2="302.2" stroke="#858585" stroke-width="0.9"/>
<text x="332.0" y="305.0" font-size="8.8" text-anchor="end" fill="#2b2b2b">0.5</text>
<line x1="336.6" y1="342.0" x2="341.6" y2="342.0" stroke="#858585" stroke-width="0.9"/>
<text x="332.0" y="344.8" font-size="8.8" text-anchor="end" fill="#2b2b2b">0</text>
<line x1="336.5" y1="341.6" x2="479.5" y2="341.6" stroke="#858585" stroke-width="0.9"/>
<line x1="358.4" y1="341.6" x2="358.4" y2="345.8" stroke="#858585" stroke-width="0.9"/>
<line x1="384.4" y1="341.6" x2="384.4" y2="345.8" stroke="#858585" stroke-width="0.9"/>
<line x1="410.2" y1="341.6" x2="410.2" y2="345.8" stroke="#858585" stroke-width="0.9"/>
<line x1="436.1" y1="341.6" x2="436.1" y2="345.8" stroke="#858585" stroke-width="0.9"/>
<line x1="462.0" y1="341.6" x2="462.0" y2="345.8" stroke="#858585" stroke-width="0.9"/>
<text x="358.4" y="358.2" font-size="8.8" text-anchor="middle" fill="#2b2b2b">0</text>
<text x="384.4" y="358.2" font-size="8.8" text-anchor="middle" fill="#2b2b2b">1</text>
<text x="410.2" y="358.2" font-size="8.8" text-anchor="middle" fill="#2b2b2b">2</text>
<text x="436.1" y="358.2" font-size="8.8" text-anchor="middle" fill="#2b2b2b">3</text>
<text x="462.0" y="358.2" font-size="8.8" text-anchor="middle" fill="#2b2b2b">4</text>
<polyline points="358.4,320.0 384.4,317.0 410.2,306.5 436.1,300.4 462.0,279.6" fill="none" stroke="#ed1c24" stroke-width="0.7"/>
<line x1="358.4" y1="318.8" x2="358.4" y2="321.2" stroke="#ed1c24" stroke-width="0.6"/>
<line x1="357.15" y1="318.8" x2="359.65" y2="318.8" stroke="#ed1c24" stroke-width="0.6"/>
<line x1="357.15" y1="321.2" x2="359.65" y2="321.2" stroke="#ed1c24" stroke-width="0.6"/>
<line x1="384.4" y1="315.8" x2="384.4" y2="318.2" stroke="#ed1c24" stroke-width="0.6"/>
<line x1="383.15" y1="315.8" x2="385.65" y2="315.8" stroke="#ed1c24" stroke-width="0.6"/>
<line x1="383.15" y1="318.2" x2="385.65" y2="318.2" stroke="#ed1c24" stroke-width="0.6"/>
<line x1="410.2" y1="305.0" x2="410.2" y2="308.0" stroke="#ed1c24" stroke-width="0.6"/>
<line x1="408.95" y1="305.0" x2="411.45" y2="305.0" stroke="#ed1c24" stroke-width="0.6"/>
<line x1="408.95" y1="308.0" x2="411.45" y2="308.0" stroke="#ed1c24" stroke-width="0.6"/>
<line x1="436.1" y1="298.9" x2="436.1" y2="301.9" stroke="#ed1c24" stroke-width="0.6"/>
<line x1="434.85" y1="298.9" x2="437.35" y2="298.9" stroke="#ed1c24" stroke-width="0.6"/>
<line x1="434.85" y1="301.9" x2="437.35" y2="301.9" stroke="#ed1c24" stroke-width="0.6"/>
<line x1="462.0" y1="272.6" x2="462.0" y2="286.6" stroke="#ed1c24" stroke-width="0.6"/>
<line x1="460.75" y1="272.6" x2="463.25" y2="272.6" stroke="#ed1c24" stroke-width="0.6"/>
<line x1="460.75" y1="286.6" x2="463.25" y2="286.6" stroke="#ed1c24" stroke-width="0.6"/>
<rect x="356.36499999999995" y="317.965" width="4.07" height="4.07" fill="#ed1c24"/>
<rect x="382.36499999999995" y="314.965" width="4.07" height="4.07" fill="#ed1c24"/>
<rect x="408.16499999999996" y="304.465" width="4.07" height="4.07" fill="#ed1c24"/>
<rect x="434.065" y="298.36499999999995" width="4.07" height="4.07" fill="#ed1c24"/>
<rect x="459.965" y="277.565" width="4.07" height="4.07" fill="#ed1c24"/>
<polyline points="358.4,317.6 384.4,312.2 410.2,298.7 436.1,284.2 462.0,248.6" fill="none" stroke="#3a8f4a" stroke-width="0.7"/>
<line x1="358.4" y1="316.40000000000003" x2="358.4" y2="318.8" stroke="#3a8f4a" stroke-width="0.6"/>
<line x1="357.15" y1="316.40000000000003" x2="359.65" y2="316.40000000000003" stroke="#3a8f4a" stroke-width="0.6"/>
<line x1="357.15" y1="318.8" x2="359.65" y2="318.8" stroke="#3a8f4a" stroke-width="0.6"/>
<line x1="384.4" y1="311.0" x2="384.4" y2="313.4" stroke="#3a8f4a" stroke-width="0.6"/>
<line x1="383.15" y1="311.0" x2="385.65" y2="311.0" stroke="#3a8f4a" stroke-width="0.6"/>
<line x1="383.15" y1="313.4" x2="385.65" y2="313.4" stroke="#3a8f4a" stroke-width="0.6"/>
<line x1="410.2" y1="297.2" x2="410.2" y2="300.2" stroke="#3a8f4a" stroke-width="0.6"/>
<line x1="408.95" y1="297.2" x2="411.45" y2="297.2" stroke="#3a8f4a" stroke-width="0.6"/>
<line x1="408.95" y1="300.2" x2="411.45" y2="300.2" stroke="#3a8f4a" stroke-width="0.6"/>
<line x1="436.1" y1="282.7" x2="436.1" y2="285.7" stroke="#3a8f4a" stroke-width="0.6"/>
<line x1="434.85" y1="282.7" x2="437.35" y2="282.7" stroke="#3a8f4a" stroke-width="0.6"/>
<line x1="434.85" y1="285.7" x2="437.35" y2="285.7" stroke="#3a8f4a" stroke-width="0.6"/>
<line x1="462.0" y1="244.6" x2="462.0" y2="252.6" stroke="#3a8f4a" stroke-width="0.6"/>
<line x1="460.75" y1="244.6" x2="463.25" y2="244.6" stroke="#3a8f4a" stroke-width="0.6"/>
<line x1="460.75" y1="252.6" x2="463.25" y2="252.6" stroke="#3a8f4a" stroke-width="0.6"/>
<path d="M358.4,315.19500000000005 L360.68474999999995,319.2835 L356.11525,319.2835 Z" fill="#3a8f4a"/>
<path d="M384.4,309.795 L386.68474999999995,313.88349999999997 L382.11525,313.88349999999997 Z" fill="#3a8f4a"/>
<path d="M410.2,296.295 L412.48474999999996,300.38349999999997 L407.91525,300.38349999999997 Z" fill="#3a8f4a"/>
<path d="M436.1,281.795 L438.38475,285.88349999999997 L433.81525000000005,285.88349999999997 Z" fill="#3a8f4a"/>
<path d="M462.0,246.195 L464.28475,250.2835 L459.71525,250.2835 Z" fill="#3a8f4a"/>
<polyline points="358.4,320.0 384.4,312.7 410.2,295.5 436.1,284.6 462.0,252.0" fill="none" stroke="#111" stroke-width="0.7"/>
<line x1="358.4" y1="318.5" x2="358.4" y2="321.5" stroke="#111" stroke-width="0.6"/>
<line x1="357.15" y1="318.5" x2="359.65" y2="318.5" stroke="#111" stroke-width="0.6"/>
<line x1="357.15" y1="321.5" x2="359.65" y2="321.5" stroke="#111" stroke-width="0.6"/>
<line x1="384.4" y1="311.2" x2="384.4" y2="314.2" stroke="#111" stroke-width="0.6"/>
<line x1="383.15" y1="311.2" x2="385.65" y2="311.2" stroke="#111" stroke-width="0.6"/>
<line x1="383.15" y1="314.2" x2="385.65" y2="314.2" stroke="#111" stroke-width="0.6"/>
<line x1="410.2" y1="292.5" x2="410.2" y2="298.5" stroke="#111" stroke-width="0.6"/>
<line x1="408.95" y1="292.5" x2="411.45" y2="292.5" stroke="#111" stroke-width="0.6"/>
<line x1="408.95" y1="298.5" x2="411.45" y2="298.5" stroke="#111" stroke-width="0.6"/>
<line x1="436.1" y1="282.6" x2="436.1" y2="286.6" stroke="#111" stroke-width="0.6"/>
<line x1="434.85" y1="282.6" x2="437.35" y2="282.6" stroke="#111" stroke-width="0.6"/>
<line x1="434.85" y1="286.6" x2="437.35" y2="286.6" stroke="#111" stroke-width="0.6"/>
<line x1="462.0" y1="245.0" x2="462.0" y2="259.0" stroke="#111" stroke-width="0.6"/>
<line x1="460.75" y1="245.0" x2="463.25" y2="245.0" stroke="#111" stroke-width="0.6"/>
<line x1="460.75" y1="259.0" x2="463.25" y2="259.0" stroke="#111" stroke-width="0.6"/>
<circle cx="358.4" cy="320.0" r="2.294" fill="#111"/>
<circle cx="384.4" cy="312.7" r="2.294" fill="#111"/>
<circle cx="410.2" cy="295.5" r="2.294" fill="#111"/>
<circle cx="436.1" cy="284.6" r="2.294" fill="#111"/>
<circle cx="462.0" cy="252.0" r="2.294" fill="#111"/>
<line x1="349.2" y1="225.3" x2="364.5" y2="225.3" stroke="#111" stroke-width="1.0"/>
<circle cx="357.1" cy="225.3" r="2.48" fill="#111"/>
<line x1="349.2" y1="239.1" x2="364.5" y2="239.1" stroke="#ed1c24" stroke-width="1.0"/>
<rect x="354.90000000000003" y="236.9" width="4.4" height="4.4" fill="#ed1c24"/>
<line x1="349.2" y1="253.3" x2="364.5" y2="253.3" stroke="#3a8f4a" stroke-width="1.0"/>
<path d="M357.1,250.70000000000002 L359.57000000000005,255.12 L354.63,255.12 Z" fill="#3a8f4a"/>
<path d="M467.0,249.0 H469.2 V278.5 H467.0" fill="none" stroke="#666" stroke-width="0.7"/>
<text transform="translate(494.2,200.8) scale(1.15,1)" font-size="14" font-weight="bold" fill="#111">h</text>
<line x1="536.2" y1="221.6" x2="536.2" y2="341.3" stroke="#858585" stroke-width="0.9"/>
<line x1="531.2" y1="221.6" x2="536.2" y2="221.6" stroke="#858585" stroke-width="0.9"/>
<text x="526.6" y="224.4" font-size="8.8" text-anchor="end" fill="#2b2b2b">1.5</text>
<line x1="531.2" y1="261.5" x2="536.2" y2="261.5" stroke="#858585" stroke-width="0.9"/>
<text x="526.6" y="264.3" font-size="8.8" text-anchor="end" fill="#2b2b2b">1.0</text>
<line x1="531.2" y1="301.4" x2="536.2" y2="301.4" stroke="#858585" stroke-width="0.9"/>
<text x="526.6" y="304.2" font-size="8.8" text-anchor="end" fill="#2b2b2b">0.5</text>
<line x1="531.2" y1="341.3" x2="536.2" y2="341.3" stroke="#858585" stroke-width="0.9"/>
<text x="526.6" y="344.1" font-size="8.8" text-anchor="end" fill="#2b2b2b">0</text>
<line x1="531.0" y1="341.4" x2="684.0" y2="341.4" stroke="#858585" stroke-width="0.9"/>
<line x1="554.3" y1="341.4" x2="554.3" y2="345.59999999999997" stroke="#858585" stroke-width="0.9"/>
<line x1="582.2" y1="341.4" x2="582.2" y2="345.59999999999997" stroke="#858585" stroke-width="0.9"/>
<line x1="610.0" y1="341.4" x2="610.0" y2="345.59999999999997" stroke="#858585" stroke-width="0.9"/>
<line x1="638.0" y1="341.4" x2="638.0" y2="345.59999999999997" stroke="#858585" stroke-width="0.9"/>
<line x1="665.7" y1="341.4" x2="665.7" y2="345.59999999999997" stroke="#858585" stroke-width="0.9"/>
<text x="554.3" y="357.8" font-size="8.8" text-anchor="middle" fill="#2b2b2b">0</text>
<text x="582.2" y="357.8" font-size="8.8" text-anchor="middle" fill="#2b2b2b">1</text>
<text x="610.0" y="357.8" font-size="8.8" text-anchor="middle" fill="#2b2b2b">2</text>
<text x="638.0" y="357.8" font-size="8.8" text-anchor="middle" fill="#2b2b2b">3</text>
<text x="665.7" y="357.8" font-size="8.8" text-anchor="middle" fill="#2b2b2b">4</text>
<polyline points="554.3,317.6 582.2,313.8 610.0,304.2 638.0,299.0 665.7,276.0" fill="none" stroke="#ed1c24" stroke-width="0.7"/>
<line x1="554.3" y1="316.40000000000003" x2="554.3" y2="318.8" stroke="#ed1c24" stroke-width="0.6"/>
<line x1="553.05" y1="316.40000000000003" x2="555.55" y2="316.40000000000003" stroke="#ed1c24" stroke-width="0.6"/>
<line x1="553.05" y1="318.8" x2="555.55" y2="318.8" stroke="#ed1c24" stroke-width="0.6"/>
<line x1="582.2" y1="312.6" x2="582.2" y2="315.0" stroke="#ed1c24" stroke-width="0.6"/>
<line x1="580.95" y1="312.6" x2="583.45" y2="312.6" stroke="#ed1c24" stroke-width="0.6"/>
<line x1="580.95" y1="315.0" x2="583.45" y2="315.0" stroke="#ed1c24" stroke-width="0.6"/>
<line x1="610.0" y1="302.2" x2="610.0" y2="306.2" stroke="#ed1c24" stroke-width="0.6"/>
<line x1="608.75" y1="302.2" x2="611.25" y2="302.2" stroke="#ed1c24" stroke-width="0.6"/>
<line x1="608.75" y1="306.2" x2="611.25" y2="306.2" stroke="#ed1c24" stroke-width="0.6"/>
<line x1="638.0" y1="297.0" x2="638.0" y2="301.0" stroke="#ed1c24" stroke-width="0.6"/>
<line x1="636.75" y1="297.0" x2="639.25" y2="297.0" stroke="#ed1c24" stroke-width="0.6"/>
<line x1="636.75" y1="301.0" x2="639.25" y2="301.0" stroke="#ed1c24" stroke-width="0.6"/>
<line x1="665.7" y1="271.0" x2="665.7" y2="281.0" stroke="#ed1c24" stroke-width="0.6"/>
<line x1="664.45" y1="271.0" x2="666.95" y2="271.0" stroke="#ed1c24" stroke-width="0.6"/>
<line x1="664.45" y1="281.0" x2="666.95" y2="281.0" stroke="#ed1c24" stroke-width="0.6"/>
<rect x="552.265" y="315.565" width="4.07" height="4.07" fill="#ed1c24"/>
<rect x="580.1650000000001" y="311.765" width="4.07" height="4.07" fill="#ed1c24"/>
<rect x="607.965" y="302.16499999999996" width="4.07" height="4.07" fill="#ed1c24"/>
<rect x="635.965" y="296.965" width="4.07" height="4.07" fill="#ed1c24"/>
<rect x="663.6650000000001" y="273.965" width="4.07" height="4.07" fill="#ed1c24"/>
<polyline points="554.3,317.0 582.2,310.6 610.0,297.4 638.0,283.0 665.7,254.2" fill="none" stroke="#3a8f4a" stroke-width="0.7"/>
<line x1="554.3" y1="315.8" x2="554.3" y2="318.2" stroke="#3a8f4a" stroke-width="0.6"/>
<line x1="553.05" y1="315.8" x2="555.55" y2="315.8" stroke="#3a8f4a" stroke-width="0.6"/>
<line x1="553.05" y1="318.2" x2="555.55" y2="318.2" stroke="#3a8f4a" stroke-width="0.6"/>
<line x1="582.2" y1="309.40000000000003" x2="582.2" y2="311.8" stroke="#3a8f4a" stroke-width="0.6"/>
<line x1="580.95" y1="309.40000000000003" x2="583.45" y2="309.40000000000003" stroke="#3a8f4a" stroke-width="0.6"/>
<line x1="580.95" y1="311.8" x2="583.45" y2="311.8" stroke="#3a8f4a" stroke-width="0.6"/>
<line x1="610.0" y1="295.4" x2="610.0" y2="299.4" stroke="#3a8f4a" stroke-width="0.6"/>
<line x1="608.75" y1="295.4" x2="611.25" y2="295.4" stroke="#3a8f4a" stroke-width="0.6"/>
<line x1="608.75" y1="299.4" x2="611.25" y2="299.4" stroke="#3a8f4a" stroke-width="0.6"/>
<line x1="638.0" y1="281.0" x2="638.0" y2="285.0" stroke="#3a8f4a" stroke-width="0.6"/>
<line x1="636.75" y1="281.0" x2="639.25" y2="281.0" stroke="#3a8f4a" stroke-width="0.6"/>
<line x1="636.75" y1="285.0" x2="639.25" y2="285.0" stroke="#3a8f4a" stroke-width="0.6"/>
<line x1="665.7" y1="248.2" x2="665.7" y2="260.2" stroke="#3a8f4a" stroke-width="0.6"/>
<line x1="664.45" y1="248.2" x2="666.95" y2="248.2" stroke="#3a8f4a" stroke-width="0.6"/>
<line x1="664.45" y1="260.2" x2="666.95" y2="260.2" stroke="#3a8f4a" stroke-width="0.6"/>
<path d="M554.3,314.595 L556.58475,318.6835 L552.0152499999999,318.6835 Z" fill="#3a8f4a"/>
<path d="M582.2,308.19500000000005 L584.4847500000001,312.2835 L579.91525,312.2835 Z" fill="#3a8f4a"/>
<path d="M610.0,294.995 L612.28475,299.08349999999996 L607.71525,299.08349999999996 Z" fill="#3a8f4a"/>
<path d="M638.0,280.595 L640.28475,284.6835 L635.71525,284.6835 Z" fill="#3a8f4a"/>
<path d="M665.7,251.795 L667.9847500000001,255.8835 L663.41525,255.8835 Z" fill="#3a8f4a"/>
<polyline points="554.3,318.6 582.2,311.2 610.0,294.2 638.0,283.0 665.7,250.4" fill="none" stroke="#111" stroke-width="0.7"/>
<line x1="554.3" y1="317.1" x2="554.3" y2="320.1" stroke="#111" stroke-width="0.6"/>
<line x1="553.05" y1="317.1" x2="555.55" y2="317.1" stroke="#111" stroke-width="0.6"/>
<line x1="553.05" y1="320.1" x2="555.55" y2="320.1" stroke="#111" stroke-width="0.6"/>
<line x1="582.2" y1="309.7" x2="582.2" y2="312.7" stroke="#111" stroke-width="0.6"/>
<line x1="580.95" y1="309.7" x2="583.45" y2="309.7" stroke="#111" stroke-width="0.6"/>
<line x1="580.95" y1="312.7" x2="583.45" y2="312.7" stroke="#111" stroke-width="0.6"/>
<line x1="610.0" y1="291.2" x2="610.0" y2="297.2" stroke="#111" stroke-width="0.6"/>
<line x1="608.75" y1="291.2" x2="611.25" y2="291.2" stroke="#111" stroke-width="0.6"/>
<line x1="608.75" y1="297.2" x2="611.25" y2="297.2" stroke="#111" stroke-width="0.6"/>
<line x1="638.0" y1="281.0" x2="638.0" y2="285.0" stroke="#111" stroke-width="0.6"/>
<line x1="636.75" y1="281.0" x2="639.25" y2="281.0" stroke="#111" stroke-width="0.6"/>
<line x1="636.75" y1="285.0" x2="639.25" y2="285.0" stroke="#111" stroke-width="0.6"/>
<line x1="665.7" y1="243.4" x2="665.7" y2="257.4" stroke="#111" stroke-width="0.6"/>
<line x1="664.45" y1="243.4" x2="666.95" y2="243.4" stroke="#111" stroke-width="0.6"/>
<line x1="664.45" y1="257.4" x2="666.95" y2="257.4" stroke="#111" stroke-width="0.6"/>
<circle cx="554.3" cy="318.6" r="2.294" fill="#111"/>
<circle cx="582.2" cy="311.2" r="2.294" fill="#111"/>
<circle cx="610.0" cy="294.2" r="2.294" fill="#111"/>
<circle cx="638.0" cy="283.0" r="2.294" fill="#111"/>
<circle cx="665.7" cy="250.4" r="2.294" fill="#111"/>
<line x1="542.0" y1="227.4" x2="554.8" y2="227.4" stroke="#111" stroke-width="1.0"/>
<circle cx="548.4" cy="227.4" r="2.48" fill="#111"/>
<line x1="542.0" y1="240.8" x2="554.8" y2="240.8" stroke="#ed1c24" stroke-width="1.0"/>
<rect x="546.1999999999999" y="238.60000000000002" width="4.4" height="4.4" fill="#ed1c24"/>
<line x1="542.0" y1="254.6" x2="554.8" y2="254.6" stroke="#3a8f4a" stroke-width="1.0"/>
<path d="M548.4,252.0 L550.87,256.42 L545.93,256.42 Z" fill="#3a8f4a"/>
<path d="M671.6,253.6 H673.8 V276.0 H671.6" fill="none" stroke="#666" stroke-width="0.7"/>
<text transform="translate(-0.3,434.9) scale(1.15,1)" font-size="14" font-weight="bold" fill="#111">i</text>
<defs><filter id="bl" x="-20%" y="-20%" width="140%" height="140%"><feTurbulence type="fractalNoise" baseFrequency="0.55" numOctaves="2" seed="7" result="n"/><feDisplacementMap in="SourceGraphic" in2="n" scale="3.2" xChannelSelector="R" yChannelSelector="G" result="d"/><feTurbulence type="fractalNoise" baseFrequency="1.2" numOctaves="1" seed="3" result="n2"/><feColorMatrix in="n2" type="matrix" values="0 0 0 0 0.82  0 0 0 0 0.82  0 0 0 0 0.82  1.4 0 0 0 -0.68" result="dots"/><feColorMatrix in="n2" type="matrix" values="0 0 0 0 0.35  0 0 0 0 0.35  0 0 0 0 0.35  0 1.5 0 0 -0.8" result="ddots"/><feComposite in="dots" in2="d" operator="in" result="dm"/><feComposite in="ddots" in2="d" operator="in" result="ddm"/><feMerge result="o"><feMergeNode in="d"/><feMergeNode in="dm"/><feMergeNode in="ddm"/></feMerge><feGaussianBlur in="o" stdDeviation="0.5"/></filter><filter id="bd" x="-20%" y="-20%" width="140%" height="140%"><feTurbulence type="fractalNoise" baseFrequency="0.5" numOctaves="2" seed="11" result="n"/><feDisplacementMap in="SourceGraphic" in2="n" scale="2.5" xChannelSelector="R" yChannelSelector="G" result="d"/><feGaussianBlur in="d" stdDeviation="1.0"/></filter><filter id="bl2" x="-20%" y="-20%" width="140%" height="140%"><feGaussianBlur stdDeviation="0.9"/></filter><filter id="bs" x="-50%" y="-50%" width="200%" height="200%"><feGaussianBlur stdDeviation="0.45"/></filter><clipPath id="c1"><rect x="19.2" y="447.1" width="55.6" height="41.1"/></clipPath><clipPath id="c2"><rect x="80.8" y="447.1" width="55.4" height="40.8"/></clipPath><clipPath id="c3"><rect x="142.1" y="447.1" width="55.8" height="40.8"/></clipPath><clipPath id="c4"><rect x="80.2" y="504.1" width="56.0" height="41.2"/></clipPath><clipPath id="c5"><rect x="142.1" y="504.1" width="55.8" height="41.5"/></clipPath></defs>
<rect x="19.2" y="447.1" width="55.6" height="41.1" fill="#6b6b6b"/>
<g clip-path="url(#c1)">
<g filter="url(#bl)">
<ellipse cx="53.8" cy="457.1" rx="8.0" ry="7.2" fill="#8c8c8c"/>
<circle cx="45.5" cy="450.1" r="2.8" fill="#a8a8a8"/>
</g>
<g filter="url(#bs)">
<circle cx="38.9" cy="449.4" r="1.3" fill="#bdbdbd"/>
</g>
<g filter="url(#bl)">
<circle cx="71.5" cy="451.0" r="4.5" fill="#9a9a9a"/>
<circle cx="65.6" cy="458.5" r="3.6" fill="#b3b3b3"/>
<circle cx="60.4" cy="465.0" r="3.6" fill="#bcbcbc"/>
<circle cx="49.4" cy="472.5" r="4.0" fill="#ababab"/>
<ellipse cx="66.5" cy="472.9" rx="7.2" ry="6.8" fill="#939393"/>
<circle cx="25.3" cy="476.0" r="5.2" fill="#a4a4a4"/>
<circle cx="35.4" cy="477.3" r="5.2" fill="#a0a0a0"/>
<circle cx="49.8" cy="484.3" r="3.0" fill="#ababab"/>
</g>
<g filter="url(#bs)">
<circle cx="42.0" cy="457.6" r="1.0" fill="#999"/>
<circle cx="23.5" cy="458.0" r="0.7" fill="#8a8a8a"/>
</g>
</g>
<rect x="64.3" y="484.3" width="7.0" height="2.6" fill="#fff"/>
<rect x="80.8" y="447.1" width="55.4" height="40.8" fill="#696969"/>
<g clip-path="url(#c2)">
<g filter="url(#bl)">
<circle cx="100.3" cy="470.7" r="6.8" fill="#7e7e7e"/>
</g>
<g filter="url(#bd)">
<circle cx="100.3" cy="470.7" r="4.6" fill="#5a5a5a"/>
</g>
<g filter="url(#bl)">
<circle cx="86.3" cy="465.9" r="3.3" fill="#b0b0b0"/>
<circle cx="92.5" cy="473.8" r="1.8" fill="#d0d0d0"/>
<circle cx="127.9" cy="477.3" r="3.1" fill="#b5b5b5"/>
</g>
<g filter="url(#bs)">
<circle cx="92.5" cy="452.3" r="0.9" fill="#c8c8c8"/>
<circle cx="110.8" cy="452.8" r="1.1" fill="#bbb"/>
<circle cx="123.5" cy="457.1" r="0.9" fill="#c8c8c8"/>
<circle cx="119.9" cy="461.5" r="1.0" fill="#b8b8b8"/>
<circle cx="125.3" cy="465.0" r="0.9" fill="#b8b8b8"/>
<circle cx="118.7" cy="477.7" r="1.0" fill="#b0b0b0"/>
<circle cx="121.8" cy="481.7" r="1.0" fill="#b0b0b0"/>
<circle cx="109.5" cy="473.3" r="1.0" fill="#b8b8b8"/>
<circle cx="106.5" cy="476.8" r="1.0" fill="#b8b8b8"/>
<circle cx="83.3" cy="471.6" r="1.1" fill="#c0c0c0"/>
<circle cx="86.8" cy="486.9" r="1.0" fill="#aaa"/>
<circle cx="101.6" cy="486.0" r="0.9" fill="#999"/>
<circle cx="133.2" cy="448.0" r="0.8" fill="#bbb"/>
<circle cx="91.6" cy="448.0" r="0.8" fill="#bbb"/>
</g>
</g>
<rect x="126.0" y="484.5" width="7.0" height="2.5" fill="#fff"/>
<rect x="142.1" y="447.1" width="55.8" height="40.8" fill="#6e6e6e"/>
<g clip-path="url(#c3)">
<g filter="url(#bl)">
<circle cx="148.6" cy="457.6" r="3.3" fill="#999"/>
<circle cx="180.2" cy="463.3" r="2.8" fill="#9c9c9c"/>
<ellipse cx="188.5" cy="480.0" rx="6.0" ry="5.0" fill="#939393"/>
</g>
<g filter="url(#bs)">
<circle cx="152.6" cy="453.6" r="0.9" fill="#aaa"/>
<circle cx="157.8" cy="452.8" r="0.9" fill="#9a9a9a"/>
<circle cx="162.2" cy="455.0" r="0.9" fill="#9a9a9a"/>
<circle cx="160.5" cy="462.8" r="0.9" fill="#a5a5a5"/>
<circle cx="153.5" cy="465.5" r="0.9" fill="#a5a5a5"/>
<circle cx="157.0" cy="467.5" r="1.0" fill="#c8c8c8"/>
<circle cx="166.9" cy="469.0" r="0.9" fill="#bbb"/>
<circle cx="158.3" cy="476.0" r="1.3" fill="#9a9a9a"/>
<circle cx="150.4" cy="475.1" r="1.2" fill="#999"/>
<circle cx="154.3" cy="481.2" r="1.1" fill="#aaa"/>
<circle cx="143.4" cy="472.9" r="0.9" fill="#aaa"/>
<circle cx="176.2" cy="450.6" r="0.8" fill="#999"/>
<circle cx="194.2" cy="450.6" r="0.9" fill="#999"/>
<circle cx="189.4" cy="464.6" r="0.8" fill="#999"/>
<circle cx="192.0" cy="468.5" r="0.8" fill="#999"/>
<circle cx="195.9" cy="471.6" r="1.0" fill="#999"/>
<circle cx="178.4" cy="479.0" r="0.9" fill="#999"/>
<circle cx="161.8" cy="472.9" r="1.0" fill="#999"/>
</g>
</g>
<rect x="188.0" y="484.1" width="7.0" height="2.8" fill="#fff"/>
<rect x="80.2" y="504.1" width="56.0" height="41.2" fill="#656565"/>
<g clip-path="url(#c4)">
<g filter="url(#bl)">
<ellipse cx="84.0" cy="524.6" rx="9.0" ry="8.0" fill="#7a7a7a"/>
</g>
<g filter="url(#bd)">
<ellipse cx="83.3" cy="524.6" rx="5.5" ry="6.0" fill="#444"/>
</g>
<g filter="url(#bl)">
<ellipse cx="89.0" cy="537.0" rx="10.0" ry="7.5" fill="#7c7c7c"/>
</g>
<g filter="url(#bd)">
<ellipse cx="88.5" cy="537.0" rx="7.5" ry="5.8" fill="#4a4a4a"/>
</g>
<g filter="url(#bl)">
<circle cx="101.6" cy="534.3" r="6.3" fill="#858585"/>
</g>
<g filter="url(#bd)">
<circle cx="101.6" cy="534.3" r="4.2" fill="#606060"/>
</g>
<g filter="url(#bl)">
<circle cx="123.5" cy="519.4" r="3.6" fill="#9a9a9a"/>
<circle cx="128.8" cy="523.8" r="3.3" fill="#a5a5a5"/>
<circle cx="116.5" cy="523.8" r="2.5" fill="#aaa"/>
<circle cx="113.0" cy="526.4" r="2.0" fill="#b0b0b0"/>
<circle cx="119.2" cy="531.7" r="5.0" fill="#8a8a8a"/>
<circle cx="127.0" cy="529.0" r="3.0" fill="#aaa"/>
<circle cx="118.3" cy="540.4" r="5.0" fill="#8f8f8f"/>
<circle cx="109.5" cy="539.5" r="3.0" fill="#999"/>
<circle cx="108.7" cy="543.5" r="2.5" fill="#999"/>
<circle cx="130.6" cy="509.3" r="4.8" fill="#7e7e7e"/>
</g>
<g filter="url(#bs)">
<circle cx="91.1" cy="511.5" r="1.2" fill="#c8c8c8"/>
<circle cx="97.3" cy="512.8" r="1.0" fill="#c0c0c0"/>
<circle cx="117.9" cy="510.2" r="0.9" fill="#bbb"/>
<circle cx="125.3" cy="516.6" r="0.9" fill="#bbb"/>
</g>
</g>
<rect x="126.0" y="541.3" width="7.0" height="2.6" fill="#fff"/>
<rect x="142.1" y="504.1" width="55.8" height="41.5" fill="#606060"/>
<g clip-path="url(#c5)">
<g filter="url(#bl)">
<circle cx="159.1" cy="509.8" r="3.6" fill="#a0a0a0"/>
<circle cx="161.8" cy="514.1" r="3.0" fill="#a8a8a8"/>
<circle cx="167.0" cy="508.0" r="3.8" fill="#9a9a9a"/>
<circle cx="168.8" cy="514.1" r="3.0" fill="#999"/>
<circle cx="172.3" cy="518.5" r="2.6" fill="#a0a0a0"/>
<circle cx="154.3" cy="521.1" r="4.6" fill="#a5a5a5"/>
<ellipse cx="153.9" cy="535.5" rx="9.6" ry="8.2" fill="#959595"/>
<circle cx="174.0" cy="525.5" r="5.0" fill="#a0a0a0"/>
<circle cx="185.0" cy="524.6" r="4.5" fill="#a0a0a0"/>
<circle cx="180.2" cy="516.8" r="2.6" fill="#b0b0b0"/>
<circle cx="193.7" cy="519.4" r="3.5" fill="#a8a8a8"/>
<circle cx="183.2" cy="533.8" r="4.6" fill="#a0a0a0"/>
<circle cx="174.5" cy="535.2" r="4.0" fill="#a8a8a8"/>
<circle cx="193.7" cy="531.7" r="3.0" fill="#999"/>
<circle cx="184.5" cy="543.0" r="3.0" fill="#909090"/>
</g>
</g>
<rect x="188.0" y="541.1" width="7.0" height="2.8" fill="#fff"/>
<text transform="translate(248.5,435.3) scale(1.15,1)" font-size="14" font-weight="bold" fill="#111">j</text>
<line x1="303.2" y1="433.4" x2="303.2" y2="553.3" stroke="#858585" stroke-width="0.9"/>
<line x1="298.2" y1="433.4" x2="303.2" y2="433.4" stroke="#858585" stroke-width="0.9"/>
<text x="293.59999999999997" y="436.2" font-size="8.8" text-anchor="end" fill="#2b2b2b">150</text>
<line x1="298.2" y1="473.3" x2="303.2" y2="473.3" stroke="#858585" stroke-width="0.9"/>
<text x="293.59999999999997" y="476.1" font-size="8.8" text-anchor="end" fill="#2b2b2b">100</text>
<line x1="298.2" y1="513.4" x2="303.2" y2="513.4" stroke="#858585" stroke-width="0.9"/>
<text x="293.59999999999997" y="516.1999999999999" font-size="8.8" text-anchor="end" fill="#2b2b2b">50</text>
<line x1="298.2" y1="553.3" x2="303.2" y2="553.3" stroke="#858585" stroke-width="0.9"/>
<text x="293.59999999999997" y="556.0999999999999" font-size="8.8" text-anchor="end" fill="#2b2b2b">0</text>
<rect x="311.45000000000005" y="459.9" width="13.3" height="93.39999999999998" fill="#a7a9ac"/>
<rect x="333.75" y="524.8" width="13.3" height="28.5" fill="#ed1c24"/>
<rect x="356.35" y="451.4" width="13.3" height="101.89999999999998" fill="#f8bca5"/>
<rect x="379.15000000000003" y="531.3" width="13.3" height="22.0" fill="#0f9d48"/>
<rect x="401.75" y="446.9" width="13.3" height="106.39999999999998" fill="#c1ddbb"/>
<line x1="298.1" y1="553.3" x2="423.8" y2="553.3" stroke="#858585" stroke-width="0.9"/>
<line x1="318.1" y1="553.3" x2="318.1" y2="558.5" stroke="#858585" stroke-width="0.9"/>
<line x1="340.4" y1="553.3" x2="340.4" y2="558.5" stroke="#858585" stroke-width="0.9"/>
<line x1="363.0" y1="553.3" x2="363.0" y2="558.5" stroke="#858585" stroke-width="0.9"/>
<line x1="385.8" y1="553.3" x2="385.8" y2="558.5" stroke="#858585" stroke-width="0.9"/>
<line x1="408.4" y1="553.3" x2="408.4" y2="558.5" stroke="#858585" stroke-width="0.9"/>
<circle cx="312.7" cy="459.7" r="2.48" fill="#111"/>
<circle cx="318.3" cy="457.4" r="2.48" fill="#111"/>
<circle cx="323.4" cy="458.1" r="2.48" fill="#111"/>
<line x1="340.4" y1="519.7" x2="340.4" y2="529.0" stroke="#222" stroke-width="0.7"/>
<line x1="337.9" y1="519.7" x2="342.9" y2="519.7" stroke="#222" stroke-width="0.7"/>
<line x1="337.9" y1="529.0" x2="342.9" y2="529.0" stroke="#222" stroke-width="0.7"/>
<rect x="333.5" y="517.0" width="4.4" height="4.4" fill="#111"/>
<rect x="333.5" y="524.9" width="4.4" height="4.4" fill="#111"/>
<rect x="343.6" y="521.5" width="4.4" height="4.4" fill="#111"/>
<line x1="363.0" y1="444.0" x2="363.0" y2="454.7" stroke="#222" stroke-width="0.7"/>
<line x1="360.5" y1="444.0" x2="365.5" y2="444.0" stroke="#222" stroke-width="0.7"/>
<line x1="360.5" y1="454.7" x2="365.5" y2="454.7" stroke="#222" stroke-width="0.7"/>
<path d="M358.5,451.7 L360.97,456.12 L356.03,456.12 Z" fill="#111"/>
<path d="M363.7,442.7 L366.17,447.12 L361.22999999999996,447.12 Z" fill="#111"/>
<path d="M368.2,449.4 L370.67,453.82 L365.72999999999996,453.82 Z" fill="#111"/>
<line x1="385.8" y1="525.3" x2="385.8" y2="536.0" stroke="#222" stroke-width="0.7"/>
<line x1="383.3" y1="525.3" x2="388.3" y2="525.3" stroke="#222" stroke-width="0.7"/>
<line x1="383.3" y1="536.0" x2="388.3" y2="536.0" stroke="#222" stroke-width="0.7"/>
<path d="M380.5,527.4 L382.97,522.9799999999999 L378.03,522.9799999999999 Z" fill="#111"/>
<path d="M385.6,538.0 L388.07000000000005,533.5799999999999 L383.13,533.5799999999999 Z" fill="#111"/>
<path d="M391.2,531.9 L393.67,527.4799999999999 L388.72999999999996,527.4799999999999 Z" fill="#111"/>
<line x1="408.4" y1="443.1" x2="408.4" y2="448.4" stroke="#222" stroke-width="0.7"/>
<line x1="405.9" y1="443.1" x2="410.9" y2="443.1" stroke="#222" stroke-width="0.7"/>
<line x1="405.9" y1="448.4" x2="410.9" y2="448.4" stroke="#222" stroke-width="0.7"/>
<path d="M402.9,440.3 L405.7,443.1 L402.9,445.90000000000003 L400.09999999999997,443.1 Z" fill="#111"/>
<path d="M402.9,446.3 L405.7,449.1 L402.9,451.90000000000003 L400.09999999999997,449.1 Z" fill="#111"/>
<path d="M413.6,443.0 L416.40000000000003,445.8 L413.6,448.6 L410.8,445.8 Z" fill="#111"/>
<line x1="337.5" y1="440.2" x2="361.4" y2="440.2" stroke="#858585" stroke-width="0.9"/>
<line x1="387.7" y1="437.9" x2="409.2" y2="437.9" stroke="#858585" stroke-width="0.9"/>
<text x="20.00" y="76.20" font-size="8.7" text-anchor="start" fill="#2b2b2b" textLength="12.53" lengthAdjust="spacingAndGlyphs">WT</text>
<text x="0.00" y="110.90" font-size="8.7" text-anchor="start" fill="#2b2b2b" textLength="52.94" lengthAdjust="spacingAndGlyphs">dsDNA donor</text>
<text x="78.00" y="132.90" font-size="8.7" text-anchor="start" fill="#f7941d" textLength="34.36" lengthAdjust="spacingAndGlyphs">PAM site</text>
<text x="41.00" y="166.20" font-size="8.7" text-anchor="start" fill="#2b2b2b" textLength="156.15" lengthAdjust="spacingAndGlyphs">Schematic diagram of point mutations</text>
<text x="65.00" y="34.70" font-size="8.7" text-anchor="start" fill="#2b2b2b" textLength="25.76" lengthAdjust="spacingAndGlyphs">sgRNA</text>
<text x="153.50" y="39.30" font-size="8.7" text-anchor="middle" fill="#16281c" textLength="26.15" lengthAdjust="spacingAndGlyphs">Cas9n</text>
<text x="153.50" y="52.00" font-size="8.7" text-anchor="middle" fill="#16281c" textLength="27.76" lengthAdjust="spacingAndGlyphs">(D10A)</text>
<text x="276.00" y="19.30" font-size="8.9" text-anchor="start" fill="#2b2b2b" textLength="44.34" lengthAdjust="spacingAndGlyphs"><tspan font-style="italic">P</tspan> &lt; 0.0001</text>
<text x="269.00" y="38.30" font-size="8.9" text-anchor="start" fill="#2b2b2b" textLength="38.19" lengthAdjust="spacingAndGlyphs"><tspan font-style="italic">P</tspan> &lt; 0.001</text>
<text transform="translate(224.70,78.50) rotate(-90)" font-size="10.6" text-anchor="middle" fill="#2b2b2b" textLength="95.31" lengthAdjust="spacingAndGlyphs">Relative connection</text>
<text transform="translate(235.90,78.00) rotate(-90)" font-size="10.6" text-anchor="middle" fill="#2b2b2b" textLength="49.15" lengthAdjust="spacingAndGlyphs">frequency</text>
<text transform="translate(285.00,155.50) rotate(-45)" font-size="9.8" text-anchor="end" fill="#2b2b2b" textLength="16.65" lengthAdjust="spacingAndGlyphs">WT</text>
<text transform="translate(302.50,155.50) rotate(-45)" font-size="9.8" text-anchor="end" fill="#2b2b2b" textLength="24.13" lengthAdjust="spacingAndGlyphs">MUT1</text>
<text transform="translate(320.00,155.50) rotate(-45)" font-size="9.8" text-anchor="end" fill="#2b2b2b" textLength="23.99" lengthAdjust="spacingAndGlyphs">MUT2</text>
<text x="412.50" y="17.00" font-size="8.4" text-anchor="start" fill="#2b2b2b" textLength="11.66" lengthAdjust="spacingAndGlyphs">WT</text>
<text x="411.50" y="29.50" font-size="8.4" text-anchor="start" fill="#2b2b2b" textLength="21.27" lengthAdjust="spacingAndGlyphs">MUT1</text>
<text x="411.50" y="42.00" font-size="8.4" text-anchor="start" fill="#2b2b2b" textLength="22.87" lengthAdjust="spacingAndGlyphs">MUT2</text>
<text transform="translate(530.00,52.00) rotate(-90)" font-size="8.9" text-anchor="middle" fill="#2b2b2b" textLength="37.39" lengthAdjust="spacingAndGlyphs"><tspan font-style="italic">P</tspan> &lt; 0.001</text>
<text transform="translate(355.20,74.75) rotate(-90)" font-size="10.6" text-anchor="middle" fill="#2b2b2b" textLength="91.54" lengthAdjust="spacingAndGlyphs">OD value (490 nm)</text>
<text x="432.00" y="175.10" font-size="10.3" text-anchor="start" fill="#2b2b2b" textLength="55.58" lengthAdjust="spacingAndGlyphs">Time (days)</text>
<text x="616.00" y="8.70" font-size="8.9" text-anchor="start" fill="#2b2b2b" textLength="37.99" lengthAdjust="spacingAndGlyphs"><tspan font-style="italic">P</tspan> &lt; 0.001</text>
<text x="598.50" y="23.20" font-size="8.9" text-anchor="start" fill="#2b2b2b" textLength="48.14" lengthAdjust="spacingAndGlyphs"><tspan font-style="italic">P</tspan> = 0.0023</text>
<text transform="translate(563.80,81.50) rotate(-90)" font-size="10.6" text-anchor="middle" fill="#2b2b2b" textLength="92.72" lengthAdjust="spacingAndGlyphs">Number of colonies</text>
<text transform="translate(616.50,156.50) rotate(-45)" font-size="9.8" text-anchor="end" fill="#2b2b2b" textLength="15.80" lengthAdjust="spacingAndGlyphs">WT</text>
<text transform="translate(639.00,154.00) rotate(-45)" font-size="9.8" text-anchor="end" fill="#2b2b2b" textLength="24.84" lengthAdjust="spacingAndGlyphs">MUT1</text>
<text transform="translate(662.00,154.50) rotate(-45)" font-size="9.8" text-anchor="end" fill="#2b2b2b" textLength="25.54" lengthAdjust="spacingAndGlyphs">MUT2</text>
<text x="68.00" y="212.60" font-size="8.9" text-anchor="start" fill="#2b2b2b" textLength="42.54" lengthAdjust="spacingAndGlyphs"><tspan font-style="italic">P</tspan> = 0.0013</text>
<text x="68.00" y="234.60" font-size="8.9" text-anchor="start" fill="#2b2b2b" textLength="42.54" lengthAdjust="spacingAndGlyphs"><tspan font-style="italic">P</tspan> = 0.0016</text>
<text transform="translate(24.70,273.50) rotate(-90)" font-size="10.6" text-anchor="middle" fill="#2b2b2b" textLength="137.00" lengthAdjust="spacingAndGlyphs">Relative expression of <tspan font-style="italic">SOX18</tspan></text>
<text transform="translate(74.50,354.50) rotate(-45)" font-size="9.8" text-anchor="end" fill="#2b2b2b" textLength="16.93" lengthAdjust="spacingAndGlyphs">WT</text>
<text transform="translate(91.50,353.50) rotate(-45)" font-size="9.8" text-anchor="end" fill="#2b2b2b" textLength="24.55" lengthAdjust="spacingAndGlyphs">MUT1</text>
<text transform="translate(109.50,353.50) rotate(-45)" font-size="9.8" text-anchor="end" fill="#2b2b2b" textLength="26.82" lengthAdjust="spacingAndGlyphs">MUT2</text>
<text x="202.50" y="238.10" font-size="8.9" text-anchor="start" fill="#2b2b2b" textLength="42.94" lengthAdjust="spacingAndGlyphs"><tspan font-style="italic">P</tspan> = 0.0010</text>
<text x="242.50" y="259.50" font-size="8.9" text-anchor="start" fill="#2b2b2b" textLength="42.94" lengthAdjust="spacingAndGlyphs"><tspan font-style="italic">P</tspan> &lt; 0.0001</text>
<text transform="translate(154.10,281.25) rotate(-90)" font-size="10.6" text-anchor="middle" fill="#2b2b2b" textLength="93.52" lengthAdjust="spacingAndGlyphs">Number of colonies</text>
<text transform="translate(202.00,354.00) rotate(-45)" font-size="9.8" text-anchor="end" fill="#2b2b2b" textLength="16.51" lengthAdjust="spacingAndGlyphs">WT</text>
<text transform="translate(221.00,354.00) rotate(-45)" font-size="9.8" text-anchor="end" fill="#2b2b2b" textLength="79.60" lengthAdjust="spacingAndGlyphs">MUT1-OE-control</text>
<text transform="translate(236.00,355.00) rotate(-45)" font-size="9.8" text-anchor="end" fill="#2b2b2b" textLength="73.87" lengthAdjust="spacingAndGlyphs">MUT1-OE-SOX18</text>
<text transform="translate(253.00,354.00) rotate(-45)" font-size="9.8" text-anchor="end" fill="#2b2b2b" textLength="80.73" lengthAdjust="spacingAndGlyphs">MUT2-OE-control</text>
<text transform="translate(270.00,354.00) rotate(-45)" font-size="9.8" text-anchor="end" fill="#2b2b2b" textLength="75.42" lengthAdjust="spacingAndGlyphs">MUT2-OE-SOX18</text>
<text x="371.00" y="228.30" font-size="8.5" text-anchor="start" fill="#2b2b2b" textLength="12.41" lengthAdjust="spacingAndGlyphs">WT</text>
<text x="370.00" y="242.30" font-size="8.5" text-anchor="start" fill="#2b2b2b" textLength="67.79" lengthAdjust="spacingAndGlyphs">MUT1-OE-control</text>
<text x="370.00" y="256.20" font-size="8.5" text-anchor="start" fill="#2b2b2b" textLength="65.08" lengthAdjust="spacingAndGlyphs">MUT1-OE-<tspan font-style="italic">SOX18</tspan></text>
<text transform="translate(477.90,263.50) rotate(-90)" font-size="8.9" text-anchor="middle" fill="#2b2b2b" textLength="42.34" lengthAdjust="spacingAndGlyphs"><tspan font-style="italic">P</tspan> = 0.0019</text>
<text transform="translate(309.40,282.25) rotate(-90)" font-size="10.6" text-anchor="middle" fill="#2b2b2b" textLength="89.74" lengthAdjust="spacingAndGlyphs">OD value (490 nm)</text>
<text x="384.00" y="374.10" font-size="10.3" text-anchor="start" fill="#2b2b2b" textLength="53.58" lengthAdjust="spacingAndGlyphs">Time (days)</text>
<text x="561.00" y="230.60" font-size="8.5" text-anchor="start" fill="#2b2b2b" textLength="12.21" lengthAdjust="spacingAndGlyphs">WT</text>
<text x="560.00" y="244.10" font-size="8.5" text-anchor="start" fill="#2b2b2b" textLength="69.19" lengthAdjust="spacingAndGlyphs">MUT2-OE-control</text>
<text x="560.00" y="257.00" font-size="8.5" text-anchor="start" fill="#2b2b2b" textLength="66.28" lengthAdjust="spacingAndGlyphs">MUT2-OE-<tspan font-style="italic">SOX18</tspan></text>
<text transform="translate(684.20,263.00) rotate(-90)" font-size="8.9" text-anchor="middle" fill="#2b2b2b" textLength="41.94" lengthAdjust="spacingAndGlyphs"><tspan font-style="italic">P</tspan> = 0.0127</text>
<text transform="translate(503.40,281.50) rotate(-90)" font-size="10.6" text-anchor="middle" fill="#2b2b2b" textLength="90.74" lengthAdjust="spacingAndGlyphs">OD value (490 nm)</text>
<text x="584.00" y="373.60" font-size="10.3" text-anchor="start" fill="#2b2b2b" textLength="53.78" lengthAdjust="spacingAndGlyphs">Time (days)</text>
<text x="47.00" y="442.60" font-size="8.3" text-anchor="middle" fill="#2b2b2b" textLength="13.10" lengthAdjust="spacingAndGlyphs">WT</text>
<text x="109.00" y="442.10" font-size="8.3" text-anchor="middle" fill="#2b2b2b" textLength="20.19" lengthAdjust="spacingAndGlyphs">MUT1</text>
<text x="169.75" y="442.10" font-size="8.3" text-anchor="middle" fill="#2b2b2b" textLength="21.59" lengthAdjust="spacingAndGlyphs">MUT2</text>
<text x="108.75" y="558.00" font-size="8.3" text-anchor="middle" fill="#2b2b2b" textLength="22.79" lengthAdjust="spacingAndGlyphs">MUT1</text>
<text x="108.75" y="566.90" font-size="8.3" text-anchor="middle" fill="#2b2b2b" textLength="39.32" lengthAdjust="spacingAndGlyphs">OE-<tspan font-style="italic">SOX18</tspan></text>
<text x="170.50" y="558.00" font-size="8.3" text-anchor="middle" fill="#2b2b2b" textLength="23.39" lengthAdjust="spacingAndGlyphs">MUT2</text>
<text x="170.00" y="566.90" font-size="8.3" text-anchor="middle" fill="#2b2b2b" textLength="41.32" lengthAdjust="spacingAndGlyphs">OE-<tspan font-style="italic">SOX18</tspan></text>
<text x="328.00" y="437.00" font-size="8.9" text-anchor="start" fill="#2b2b2b" textLength="42.54" lengthAdjust="spacingAndGlyphs"><tspan font-style="italic">P</tspan> &lt; 0.0001</text>
<text x="378.00" y="435.00" font-size="8.9" text-anchor="start" fill="#2b2b2b" textLength="40.94" lengthAdjust="spacingAndGlyphs"><tspan font-style="italic">P</tspan> &lt; 0.0001</text>
<text transform="translate(258.40,493.75) rotate(-90)" font-size="10.6" text-anchor="middle" fill="#2b2b2b" textLength="94.48" lengthAdjust="spacingAndGlyphs">Number of spheres/</text>
<text transform="translate(271.20,493.25) rotate(-90)" font-size="10.6" text-anchor="middle" fill="#2b2b2b" textLength="54.27" lengthAdjust="spacingAndGlyphs">5,000 cells</text>
<text transform="translate(324.00,568.50) rotate(-45)" font-size="9.8" text-anchor="end" fill="#2b2b2b" textLength="15.09" lengthAdjust="spacingAndGlyphs">WT</text>
<text transform="translate(348.00,567.00) rotate(-45)" font-size="9.8" text-anchor="end" fill="#2b2b2b" textLength="80.79" lengthAdjust="spacingAndGlyphs">MUT1-OE-Control</text>
<text transform="translate(369.00,567.00) rotate(-45)" font-size="9.8" text-anchor="end" fill="#2b2b2b" textLength="75.70" lengthAdjust="spacingAndGlyphs">MUT1-OE-SOX18</text>
<text transform="translate(392.00,567.00) rotate(-45)" font-size="9.8" text-anchor="end" fill="#2b2b2b" textLength="81.64" lengthAdjust="spacingAndGlyphs">MUT2-OE-Control</text>
<text transform="translate(414.00,567.00) rotate(-45)" font-size="9.8" text-anchor="end" fill="#2b2b2b" textLength="77.26" lengthAdjust="spacingAndGlyphs">MUT2-OE-SOX18</text>
</svg></body></html>
